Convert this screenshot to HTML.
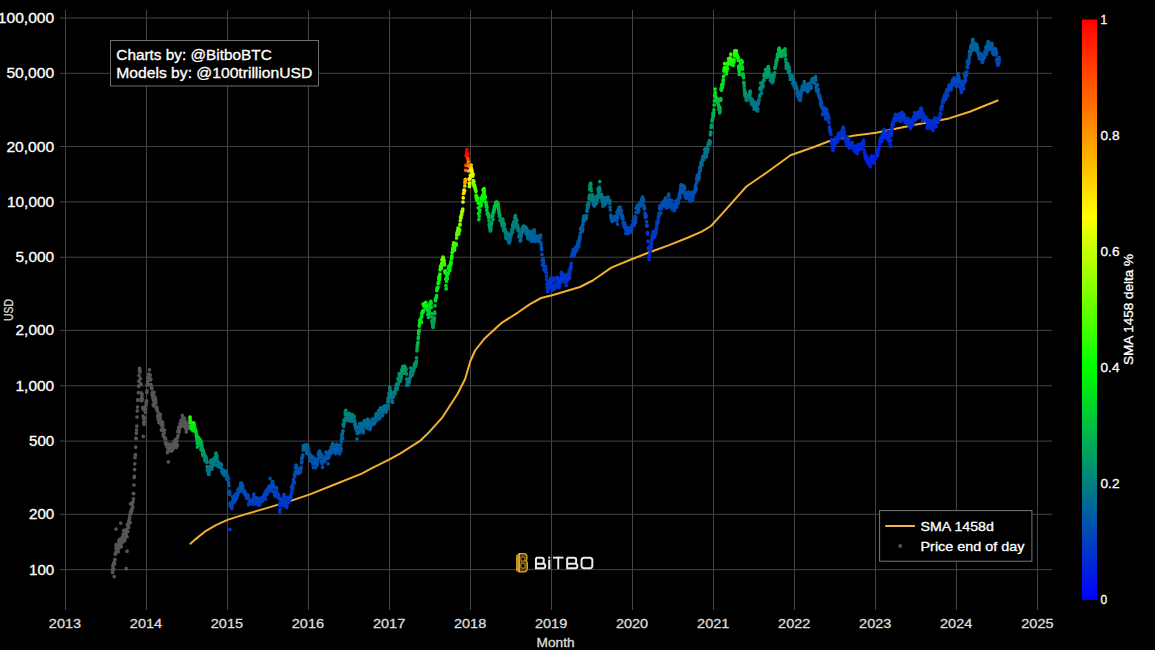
<!DOCTYPE html>
<html><head><meta charset="utf-8"><title>BTC SMA 1458 delta</title>
<style>
html,body{margin:0;padding:0;background:#000;width:1155px;height:650px;overflow:hidden}
svg{display:block;font-family:'Liberation Sans',sans-serif}
</style></head><body>
<svg width="1155" height="650" viewBox="0 0 1155 650">
<defs>
<linearGradient id="cb" x1="0" y1="1" x2="0" y2="0">
<stop offset="0" stop-color="#0000ff"/>
<stop offset="0.4" stop-color="#00ff00"/>
<stop offset="0.66" stop-color="#ffff00"/>
<stop offset="1" stop-color="#ff0000"/>
</linearGradient>
<linearGradient id="lg" x1="0" y1="0" x2="1" y2="1">
<stop offset="0" stop-color="#f0c040"/>
<stop offset="0.6" stop-color="#d49a1c"/>
<stop offset="1" stop-color="#a87410"/>
</linearGradient>
</defs>
<rect width="1155" height="650" fill="#000"/>
<g stroke="#444" stroke-width="1"><line x1="65.50" y1="10" x2="65.50" y2="610"/><line x1="146.50" y1="10" x2="146.50" y2="610"/><line x1="227.50" y1="10" x2="227.50" y2="610"/><line x1="308.50" y1="10" x2="308.50" y2="610"/><line x1="389.50" y1="10" x2="389.50" y2="610"/><line x1="470.50" y1="10" x2="470.50" y2="610"/><line x1="551.50" y1="10" x2="551.50" y2="610"/><line x1="632.50" y1="10" x2="632.50" y2="610"/><line x1="713.50" y1="10" x2="713.50" y2="610"/><line x1="794.50" y1="10" x2="794.50" y2="610"/><line x1="875.50" y1="10" x2="875.50" y2="610"/><line x1="956.50" y1="10" x2="956.50" y2="610"/><line x1="1037.50" y1="10" x2="1037.50" y2="610"/><line x1="60" y1="569.61" x2="1052" y2="569.61"/><line x1="60" y1="514.26" x2="1052" y2="514.26"/><line x1="60" y1="441.09" x2="1052" y2="441.09"/><line x1="60" y1="385.74" x2="1052" y2="385.74"/><line x1="60" y1="330.39" x2="1052" y2="330.39"/><line x1="60" y1="257.22" x2="1052" y2="257.22"/><line x1="60" y1="201.87" x2="1052" y2="201.87"/><line x1="60" y1="146.52" x2="1052" y2="146.52"/><line x1="60" y1="73.35" x2="1052" y2="73.35"/><line x1="60" y1="18.00" x2="1052" y2="18.00"/></g>
<g fill="#fff" stroke="#fff" stroke-width="0.3" font-size="14"><text x="54.2" y="574.61" text-anchor="end" textLength="25.2" lengthAdjust="spacingAndGlyphs">100</text><text x="54.2" y="519.26" text-anchor="end" textLength="25.2" lengthAdjust="spacingAndGlyphs">200</text><text x="54.2" y="446.09" text-anchor="end" textLength="25.2" lengthAdjust="spacingAndGlyphs">500</text><text x="54.2" y="390.74" text-anchor="end" textLength="38.7" lengthAdjust="spacingAndGlyphs">1,000</text><text x="54.2" y="335.39" text-anchor="end" textLength="38.7" lengthAdjust="spacingAndGlyphs">2,000</text><text x="54.2" y="262.22" text-anchor="end" textLength="38.7" lengthAdjust="spacingAndGlyphs">5,000</text><text x="54.2" y="206.87" text-anchor="end" textLength="47.3" lengthAdjust="spacingAndGlyphs">10,000</text><text x="54.2" y="151.52" text-anchor="end" textLength="47.8" lengthAdjust="spacingAndGlyphs">20,000</text><text x="54.2" y="78.35" text-anchor="end" textLength="47.8" lengthAdjust="spacingAndGlyphs">50,000</text><text x="54.2" y="23.00" text-anchor="end" textLength="56.4" lengthAdjust="spacingAndGlyphs">100,000</text></g>
<g fill="#ddd" stroke="#ddd" stroke-width="0.3" font-size="12.6"><text x="65.00" y="628" text-anchor="middle" textLength="32.3" lengthAdjust="spacingAndGlyphs">2013</text><text x="145.98" y="628" text-anchor="middle" textLength="32.3" lengthAdjust="spacingAndGlyphs">2014</text><text x="226.96" y="628" text-anchor="middle" textLength="32.3" lengthAdjust="spacingAndGlyphs">2015</text><text x="307.93" y="628" text-anchor="middle" textLength="32.3" lengthAdjust="spacingAndGlyphs">2016</text><text x="389.13" y="628" text-anchor="middle" textLength="32.3" lengthAdjust="spacingAndGlyphs">2017</text><text x="470.11" y="628" text-anchor="middle" textLength="32.3" lengthAdjust="spacingAndGlyphs">2018</text><text x="551.09" y="628" text-anchor="middle" textLength="32.3" lengthAdjust="spacingAndGlyphs">2019</text><text x="632.07" y="628" text-anchor="middle" textLength="32.3" lengthAdjust="spacingAndGlyphs">2020</text><text x="713.27" y="628" text-anchor="middle" textLength="32.3" lengthAdjust="spacingAndGlyphs">2021</text><text x="794.24" y="628" text-anchor="middle" textLength="32.3" lengthAdjust="spacingAndGlyphs">2022</text><text x="875.22" y="628" text-anchor="middle" textLength="32.3" lengthAdjust="spacingAndGlyphs">2023</text><text x="956.20" y="628" text-anchor="middle" textLength="32.3" lengthAdjust="spacingAndGlyphs">2024</text><text x="1037.40" y="628" text-anchor="middle" textLength="32.3" lengthAdjust="spacingAndGlyphs">2025</text></g>
<text x="555.6" y="646.8" text-anchor="middle" font-size="12.4" fill="#ddd" stroke="#ddd" stroke-width="0.3" textLength="38" lengthAdjust="spacingAndGlyphs">Month</text>
<text transform="translate(13.3,310) rotate(-90)" x="0" y="0" text-anchor="middle" font-size="12.6" fill="#ddd" stroke="#ddd" stroke-width="0.3" textLength="22" lengthAdjust="spacingAndGlyphs">USD</text>
<!-- logo -->
<g>
<path d="M516.5 555.6 l2.8 -2 v18.4 l-2.8 -1.4 z" fill="#c08a1c" stroke="#e0b034" stroke-width="0.8"/>
<path d="M519.3 553.6 h4.4 q3.2 0 3.2 3.2 v1.8 q0 1.4 -.9 2.2 q1.3 .9 1.3 2.6 v4 q0 4.4 -3.6 4.4 h-4.4 z" fill="#5a3c08" stroke="#e0b034" stroke-width="1.3"/>
<rect x="520.9" y="557.1" width="3.9" height="3.9" rx="1.4" fill="#120a02" stroke="#d8a42c" stroke-width="0.9"/>
<rect x="520.9" y="563.3" width="4.2" height="4.8" rx="1.6" fill="#120a02" stroke="#d8a42c" stroke-width="0.9"/>
<g fill="#ececec"><rect x="548.2" y="556.7" width="2.1" height="1.8"/><rect x="548.2" y="559.6" width="2.1" height="9.5"/><rect x="553" y="556.7" width="10.5" height="1.9"/><rect x="557.3" y="556.7" width="1.9" height="12.4"/></g><path d="M535.95 557.65 V568.15 H543.25 Q545.25 568.15 545.25 566.15 V565.80 Q545.25 563.80 543.25 563.80 H535.95 M535.95 557.65 H541.75 Q543.75 557.65 543.75 559.65 V561.80 Q543.75 563.80 541.75 563.80 M567.15 557.65 V568.15 H575.35 Q577.35 568.15 577.35 566.15 V565.80 Q577.35 563.80 575.35 563.80 H567.15 M567.15 557.65 H574.15 Q576.15 557.65 576.15 559.65 V561.80 Q576.15 563.80 574.15 563.80" fill="none" stroke="#ececec" stroke-width="2"/><rect x="581.55" y="557.65" width="10.8" height="10.5" rx="2.6" fill="none" stroke="#ececec" stroke-width="2"/>
</g>
<path d="M189.9 544.3 L195.6 539.1 L206.0 530.8 L216.4 524.8 L228.1 519.6 L244.9 514.4 L265.7 508.4 L289.1 501.4 L309.9 494.4 L335.8 484.0 L361.8 473.6 L370.0 469.1 L389.5 459.4 L400.5 453.4 L420.8 440.3 L429.3 431.9 L441.8 418.2 L457.8 393.5 L465.2 378.8 L470.2 361.5 L475.1 350.5 L484.9 338.2 L500.9 323.4 L518.2 312.3 L530.0 304.1 L541.1 298.0 L552.2 295.3 L579.9 287.0 L592.8 280.5 L611.3 267.6 L631.6 259.3 L648.2 252.8 L668.5 245.4 L687.0 238.0 L701.7 231.6 L711.0 226.0 L720.2 215.9 L725.6 209.9 L746.4 186.5 L767.1 172.2 L790.5 155.3 L813.9 147.0 L829.5 141.0 L852.9 135.8 L876.2 132.7 L891.8 129.4 L917.8 124.2 L949.0 118.4 L969.7 111.7 L998.3 100.3" fill="none" stroke="#f0b030" stroke-width="2" stroke-linejoin="round"/>
<!-- dots -->
<g stroke-width="3.7" stroke-linecap="round" fill="none">
<path stroke="#555555" d="M112.4 569.9h0M112.6 572.4h0M112.8 565.9h0M113.1 569.0h0M113.3 565.5h0M113.5 563.7h0M113.7 569.0h0M114.0 564.6h0M114.2 562.0h0M114.4 562.8h0M114.6 563.5h0M114.8 559.6h0M115.1 559.6h0M115.3 554.2h0M115.5 553.7h0M115.7 552.6h0M116.0 548.9h0M116.2 546.6h0M116.4 544.8h0M116.6 548.2h0M116.8 549.3h0M117.1 549.1h0M117.3 550.0h0M117.5 545.9h0M117.7 548.3h0M117.9 549.8h0M118.2 551.7h0M118.4 547.3h0M118.6 547.0h0M118.8 541.6h0M119.1 544.2h0M119.3 539.5h0M119.5 540.1h0M119.7 547.4h0M119.9 539.4h0M120.2 545.6h0M120.4 545.7h0M120.6 543.4h0M120.8 544.7h0M121.1 545.0h0M121.3 546.4h0M121.5 542.7h0M121.7 540.1h0M121.9 539.1h0M122.2 537.3h0M122.4 539.3h0M122.6 537.3h0M122.8 542.0h0M123.1 534.3h0M123.3 534.0h0M123.5 534.0h0M123.7 530.4h0M123.9 541.0h0M124.2 531.0h0M124.4 534.1h0M124.6 534.1h0M124.8 540.4h0M125.0 531.1h0M125.3 537.2h0M125.5 533.4h0M125.7 533.5h0M125.9 531.6h0M126.2 534.5h0M126.4 529.7h0M126.6 531.0h0M126.8 532.3h0M127.0 536.8h0M127.3 524.5h0M127.5 531.7h0M127.7 531.3h0M127.9 526.1h0M128.2 526.1h0M128.4 522.9h0M128.6 527.4h0M128.8 523.7h0M129.0 520.5h0M129.3 519.2h0M129.5 518.4h0M129.7 517.8h0M129.9 515.0h0M130.2 522.5h0M130.4 512.4h0M130.6 503.8h0M130.8 511.1h0M131.0 512.0h0M131.3 512.9h0M131.5 510.5h0M131.7 508.9h0M131.9 508.9h0M132.1 509.8h0M132.4 504.9h0M132.6 502.6h0M132.8 507.1h0M133.0 501.8h0M133.3 493.5h0M133.5 498.8h0M133.7 493.6h0M133.9 485.0h0M134.1 477.4h0M134.4 476.4h0M134.6 469.6h0M134.8 463.8h0M135.0 457.7h0M135.3 454.7h0M135.5 455.2h0M135.7 447.2h0M135.9 438.2h0M136.1 438.4h0M136.4 433.2h0M136.6 430.0h0M136.8 426.2h0M137.0 417.0h0M137.3 410.9h0M137.5 407.0h0M137.7 399.8h0M137.9 400.4h0M138.1 399.6h0M138.4 392.6h0M138.6 386.2h0M138.8 381.1h0M139.0 375.5h0M139.3 371.1h0M139.5 368.3h0M139.7 368.8h0M139.9 371.9h0M140.1 371.0h0M140.4 378.6h0M140.6 383.6h0M140.8 384.6h0M141.0 384.4h0M141.2 392.9h0M141.5 400.8h0M141.7 398.0h0M141.9 396.0h0M142.1 394.2h0M142.4 399.6h0M142.6 399.3h0M142.8 407.3h0M143.0 408.9h0M143.2 416.0h0M143.5 418.3h0M143.7 422.1h0M143.9 423.3h0M144.1 424.4h0M144.4 422.3h0M144.6 421.8h0M144.8 417.9h0M145.0 411.3h0M145.2 410.6h0M145.5 412.3h0M145.7 408.9h0M145.9 405.6h0M146.1 402.7h0M146.4 403.7h0M146.6 400.8h0M146.8 392.3h0M147.0 390.8h0M147.2 384.9h0M147.5 381.1h0M147.7 385.0h0M147.9 383.6h0M148.1 377.4h0M148.3 377.3h0M148.6 378.1h0M148.8 374.4h0M149.0 374.2h0M149.2 376.0h0M149.5 369.8h0M149.7 375.0h0M149.9 378.5h0M150.1 379.4h0M150.3 375.0h0M150.6 380.0h0M150.8 379.2h0M151.0 384.5h0M151.2 387.4h0M151.5 388.4h0M151.7 387.1h0M151.9 388.5h0M152.1 394.5h0M152.3 392.4h0M152.6 396.3h0M152.8 397.8h0M153.0 396.4h0M153.2 404.4h0M153.5 400.2h0M153.7 405.8h0M153.9 395.5h0M154.1 392.3h0M154.3 401.6h0M154.6 403.9h0M154.8 402.1h0M155.0 402.6h0M155.2 397.6h0M155.4 400.2h0M155.7 400.1h0M155.9 402.8h0M156.1 407.6h0M156.3 407.4h0M156.6 409.0h0M156.8 407.0h0M157.0 407.9h0M157.2 410.5h0M157.4 410.8h0M157.7 416.2h0M157.9 412.0h0M158.1 419.6h0M158.3 414.0h0M158.6 419.0h0M158.8 415.6h0M159.0 422.5h0M159.2 420.3h0M159.4 420.9h0M159.7 422.5h0M159.9 419.3h0M160.1 417.5h0M160.3 414.4h0M160.6 423.7h0M160.8 421.1h0M161.0 421.1h0M161.2 423.1h0M161.4 430.2h0M161.7 421.6h0M161.9 425.4h0M162.1 425.0h0M162.3 428.1h0M162.6 422.4h0M162.8 425.4h0M163.0 430.4h0M163.2 434.4h0M163.4 436.2h0M163.7 430.2h0M163.9 432.0h0M164.1 432.9h0M164.3 430.2h0M164.5 430.0h0M164.8 437.4h0M165.0 438.9h0M165.2 438.7h0M165.4 443.3h0M165.7 438.7h0M165.9 442.5h0M166.1 442.7h0M166.3 443.2h0M166.5 445.6h0M166.8 445.7h0M167.0 446.4h0M167.2 447.0h0M167.4 452.6h0M167.7 448.0h0M167.9 451.0h0M168.1 450.7h0M168.3 447.4h0M168.5 449.6h0M168.8 445.1h0M169.0 449.6h0M169.2 444.8h0M169.4 444.2h0M169.7 446.6h0M169.9 449.1h0M170.1 450.3h0M170.3 450.8h0M170.5 447.9h0M170.8 445.0h0M171.0 448.8h0M171.2 449.4h0M171.4 446.1h0M171.6 451.0h0M171.9 450.4h0M172.1 447.0h0M172.3 450.3h0M172.5 446.1h0M172.8 445.5h0M173.0 448.8h0M173.2 443.5h0M173.4 446.3h0M173.6 442.5h0M173.9 447.2h0M174.1 444.0h0M174.3 445.7h0M174.5 441.0h0M174.8 442.9h0M175.0 447.1h0M175.2 446.8h0M175.4 439.7h0M175.6 445.7h0M175.9 447.2h0M176.1 443.6h0M176.3 447.4h0M176.5 440.7h0M176.8 441.2h0M177.0 444.5h0M177.2 445.7h0M177.4 445.5h0M177.6 437.4h0M177.9 431.7h0M178.1 435.5h0M178.3 430.2h0M178.5 431.4h0M178.7 427.3h0M179.0 432.1h0M179.2 431.9h0M179.4 430.3h0M179.6 427.4h0M179.9 425.8h0M180.1 423.5h0M180.3 424.0h0M180.5 423.0h0M180.7 423.4h0M181.0 420.6h0M181.2 426.5h0M181.4 423.3h0M181.6 425.4h0M181.9 425.7h0M182.1 419.2h0M182.3 415.4h0M182.5 423.6h0M182.7 421.5h0M183.0 422.7h0M183.2 422.4h0M183.4 423.9h0M183.6 420.7h0M183.9 423.1h0M184.1 423.0h0M184.3 424.5h0M184.5 418.2h0M184.7 426.0h0M185.0 427.0h0M185.2 421.4h0M185.4 422.9h0M185.6 425.8h0M185.8 428.7h0M186.1 427.9h0M186.3 432.0h0M186.5 429.3h0M186.7 424.8h0M187.0 424.0h0M187.2 427.6h0M187.4 424.2h0M187.6 427.1h0M187.8 428.1h0M188.1 427.5h0M188.3 428.2h0M188.5 426.0h0M188.7 424.9h0M189.0 423.0h0M189.2 421.8h0M189.4 418.9h0M189.6 419.3h0M189.8 418.4h0M114.2 576.6h0M126.2 568.7h0M120.7 523.1h0M116.0 529.0h0M116.0 544.7h0M127.1 551.2h0M143.3 436.4h0M168.3 461.8h0"/>
<path stroke="#2afc00" d="M190.1 417.1h0M444.6 265.0h0M454.4 248.3h0M456.1 244.8h0M456.3 245.0h0M476.1 195.4h0M730.4 57.8h0M734.6 53.2h0M735.1 53.1h0M735.5 53.0h0"/>
<path stroke="#18fc00" d="M190.3 420.1h0M439.0 276.6h0M451.9 255.9h0M476.5 198.1h0M477.4 197.6h0M477.7 197.8h0M724.2 69.0h0M724.9 68.4h0M725.5 67.3h0M728.0 64.8h0M728.2 64.3h0M729.1 63.4h0M729.5 62.2h0M729.7 62.0h0"/>
<path stroke="#0cfc00" d="M190.5 422.7h0M190.7 422.6h0M423.1 304.1h0M438.8 279.1h0M451.5 258.7h0M477.2 199.6h0M724.0 71.1h0M731.3 62.9h0M733.5 60.1h0M734.2 59.8h0M736.8 56.2h0M737.3 55.9h0"/>
<path stroke="#00f606" d="M191.0 426.4h0M191.6 426.2h0M192.1 425.2h0M424.4 306.1h0M424.8 304.9h0M425.9 302.3h0M448.6 268.6h0M450.4 265.5h0M450.6 265.1h0M482.1 199.6h0M723.5 76.5h0M723.7 76.0h0M726.4 73.7h0M733.1 65.4h0M738.2 60.5h0"/>
<path stroke="#00f60c" d="M191.2 427.8h0M192.3 426.3h0M194.1 424.3h0M422.2 312.2h0M422.4 312.1h0M422.8 311.0h0M425.5 304.6h0M449.0 268.6h0M480.3 202.2h0M480.5 202.2h0M485.0 197.1h0M485.2 196.5h0"/>
<path stroke="#00f012" d="M191.4 429.0h0M192.5 427.9h0M192.7 428.4h0M193.6 427.3h0M194.5 426.0h0M423.3 311.4h0M423.5 311.0h0M423.7 310.3h0M437.5 288.5h0M437.7 288.1h0M482.3 201.4h0M484.8 198.5h0M715.1 89.1h0M723.3 79.8h0"/>
<path stroke="#06fc00" d="M191.8 422.7h0M439.5 279.3h0M444.8 271.5h0M445.0 271.0h0M482.8 195.0h0M726.2 70.0h0M726.8 69.0h0M727.1 68.9h0M727.3 68.1h0M727.5 68.7h0M731.5 64.5h0M732.2 62.9h0M732.6 63.1h0M732.8 62.7h0M733.3 62.3h0M733.7 61.0h0M737.5 57.4h0M737.7 56.9h0"/>
<path stroke="#00e418" d="M193.0 430.7h0M193.4 430.0h0M194.3 429.6h0M194.9 428.6h0M195.2 428.9h0M420.4 320.7h0M445.7 279.1h0M722.0 84.6h0M722.6 84.0h0M742.2 61.6h0"/>
<path stroke="#00ea12" d="M193.2 428.8h0M420.0 319.9h0M421.1 317.7h0M421.7 316.7h0M425.7 307.3h0M426.2 306.3h0M426.6 305.3h0M436.8 290.6h0M447.0 275.1h0M448.4 272.8h0M449.7 270.6h0M478.3 207.8h0M480.8 204.5h0M723.1 80.8h0M741.3 60.3h0"/>
<path stroke="#00fc06" d="M193.8 422.8h0M424.0 306.0h0M425.1 303.3h0M438.6 283.2h0M445.3 273.0h0M448.8 266.6h0M449.5 266.3h0M450.1 264.9h0M451.0 263.5h0M478.1 203.1h0M481.9 198.6h0"/>
<path stroke="#00e41e" d="M194.7 429.9h0M419.5 324.2h0M420.6 321.4h0M420.8 321.4h0M426.8 307.9h0M427.1 306.5h0M430.8 301.4h0M485.6 201.8h0M485.9 202.3h0M715.3 92.7h0M721.7 85.0h0M722.9 83.9h0M738.6 66.4h0M741.1 63.5h0M741.5 63.7h0M741.9 63.0h0"/>
<path stroke="#00de1e" d="M195.4 430.4h0M195.8 430.6h0M421.3 321.7h0M429.9 303.3h0M430.6 303.0h0M447.3 278.5h0M447.5 278.6h0M479.6 210.3h0M479.9 210.0h0M714.9 94.5h0M722.4 86.2h0M739.9 66.0h0M740.2 65.6h0"/>
<path stroke="#00d824" d="M195.6 432.0h0M196.1 432.5h0M429.7 305.9h0M431.1 303.6h0M435.7 298.4h0M435.9 297.7h0M436.2 298.1h0M436.4 297.4h0M478.5 213.3h0M479.4 212.6h0M721.1 89.5h0M739.7 68.6h0"/>
<path stroke="#00d22a" d="M196.3 434.6h0M419.1 330.4h0M427.7 310.8h0M429.3 309.1h0M435.5 300.7h0M445.9 285.7h0"/>
<path stroke="#00cc36" d="M196.5 437.1h0M427.9 314.2h0M428.8 312.3h0M446.1 288.9h0M446.4 288.7h0M478.8 219.6h0M479.0 219.3h0M486.8 210.1h0M495.6 202.8h0M495.8 202.4h0M496.5 202.2h0M716.0 100.3h0M717.1 100.0h0M739.3 74.5h0"/>
<path stroke="#00d230" d="M196.7 435.3h0M418.8 331.4h0M431.3 307.3h0M479.2 216.1h0M487.0 207.3h0M716.2 98.5h0M716.4 98.3h0M739.5 72.1h0M742.6 69.1h0"/>
<path stroke="#00c63c" d="M196.9 439.6h0M198.9 438.1h0M418.2 338.4h0M418.4 336.9h0M428.6 315.2h0M494.3 206.2h0M495.0 205.8h0M495.2 205.4h0M495.4 205.4h0M496.7 204.6h0M497.4 203.8h0M714.2 105.0h0M717.3 102.1h0M718.2 100.4h0M720.6 98.6h0"/>
<path stroke="#00ba42" d="M197.2 443.3h0M198.5 442.1h0M199.2 441.0h0M200.3 440.8h0M418.0 342.2h0M488.3 215.2h0M493.6 209.9h0M498.3 205.9h0M714.0 109.8h0M718.4 104.9h0M743.3 75.9h0M778.8 49.6h0M779.0 50.5h0M779.4 49.2h0"/>
<path stroke="#00b44e" d="M197.4 446.9h0M200.5 443.5h0M492.1 215.0h0M492.5 215.3h0M498.7 210.1h0M712.9 113.7h0M719.3 106.8h0M777.4 55.4h0M777.9 55.0h0M778.1 54.1h0M779.9 53.6h0M780.1 53.4h0M780.8 52.7h0M782.3 52.1h0M783.2 50.7h0M784.1 50.9h0"/>
<path stroke="#00c042" d="M197.6 441.1h0M197.8 441.3h0M198.7 440.0h0M200.1 439.5h0M428.4 317.3h0M431.5 313.7h0M487.9 213.6h0M488.1 213.8h0M494.5 208.5h0M720.4 100.4h0M742.8 75.3h0M778.6 49.5h0"/>
<path stroke="#00c636" d="M198.1 437.2h0M428.2 314.5h0M435.0 305.8h0M496.3 203.1h0M497.0 202.3h0M497.2 202.5h0M497.6 202.5h0"/>
<path stroke="#00c03c" d="M198.3 439.9h0M487.2 214.0h0M487.4 213.1h0M487.6 212.8h0M494.7 207.4h0M496.1 206.1h0M497.8 203.9h0M498.1 203.9h0M717.5 102.7h0M717.8 102.9h0M718.0 102.5h0M720.9 99.3h0M743.0 73.9h0M779.2 48.0h0"/>
<path stroke="#00b448" d="M199.4 444.1h0M199.6 443.0h0M199.8 443.8h0M201.4 441.9h0M417.3 345.7h0M417.5 344.3h0M417.7 344.4h0M431.7 317.0h0M434.6 313.8h0M488.5 216.9h0M488.7 217.7h0M493.2 213.1h0M498.5 208.6h0M713.8 112.6h0M719.1 106.9h0M778.3 53.3h0M781.0 51.5h0M781.2 51.6h0M785.0 48.9h0"/>
<path stroke="#00ae4e" d="M200.7 445.3h0M417.1 348.0h0M491.9 217.2h0M492.3 216.3h0M492.7 216.0h0M713.5 115.6h0M718.9 109.6h0M777.7 56.6h0M780.3 54.3h0M781.4 53.9h0M782.5 52.2h0M783.0 53.1h0M783.7 52.4h0M783.9 52.2h0M784.8 51.2h0"/>
<path stroke="#00a85a" d="M200.9 449.6h0M432.4 323.8h0M489.2 224.3h0M712.0 121.0h0M719.7 112.8h0M765.5 69.6h0M767.9 67.8h0M768.3 66.6h0M775.9 61.6h0M776.3 62.0h0M776.6 61.0h0M785.4 55.3h0"/>
<path stroke="#00ae54" d="M201.2 446.2h0M201.6 445.3h0M201.8 445.1h0M431.9 320.9h0M432.2 321.6h0M434.2 319.2h0M434.4 318.2h0M489.0 220.9h0M499.0 212.0h0M713.1 116.4h0M713.3 116.2h0M719.5 109.4h0M720.2 108.4h0M743.7 82.4h0M777.2 58.3h0M780.5 56.2h0M781.9 55.2h0M782.1 53.8h0M783.4 53.6h0"/>
<path stroke="#00a854" d="M202.0 447.1h0M416.9 350.8h0M433.7 320.7h0M493.0 219.4h0M499.2 213.8h0M499.6 214.0h0M712.2 119.6h0M712.4 119.2h0M712.6 118.6h0M720.0 111.3h0M743.9 83.4h0M776.8 59.7h0M777.0 59.9h0M781.7 56.5h0M782.8 55.4h0M784.3 54.7h0M784.5 54.5h0M785.2 53.7h0"/>
<path stroke="#00a25a" d="M202.3 449.5h0M432.6 324.4h0M433.5 323.4h0M433.9 322.9h0M489.4 224.9h0M491.4 223.3h0M491.6 222.5h0M499.4 216.2h0M499.8 215.6h0M744.2 86.2h0M766.1 69.6h0M768.6 68.6h0"/>
<path stroke="#00a260" d="M202.5 450.9h0M203.2 450.0h0M203.4 450.4h0M402.6 366.5h0M402.9 366.7h0M403.1 366.8h0M404.4 366.1h0M432.8 326.2h0M433.3 325.3h0M491.2 225.0h0M765.9 71.3h0M767.2 71.3h0M768.8 69.4h0M775.7 65.2h0M776.1 63.8h0"/>
<path stroke="#009c66" d="M202.7 453.8h0M203.8 453.3h0M401.8 371.2h0M402.2 370.7h0M403.5 368.7h0M405.1 367.5h0M416.6 357.9h0M491.0 228.5h0M500.1 220.3h0M500.3 219.5h0M500.5 219.4h0M500.7 220.2h0M501.0 218.9h0M590.6 183.3h0M711.1 127.5h0M711.8 127.0h0M764.1 75.9h0M765.2 76.0h0M765.7 74.8h0M767.0 74.0h0M769.0 72.3h0M769.2 73.2h0M775.0 68.3h0"/>
<path stroke="#009666" d="M202.9 455.4h0M204.5 454.1h0M399.1 373.8h0M401.5 371.9h0M403.8 370.4h0M404.0 370.2h0M405.3 368.7h0M405.8 368.6h0M490.1 230.0h0M490.3 231.0h0M490.5 230.4h0M490.7 230.7h0M501.2 221.1h0M501.4 221.2h0M501.6 221.1h0M502.5 221.0h0M502.9 219.2h0M590.2 185.2h0M590.4 184.3h0M590.8 184.7h0M744.6 91.5h0M764.6 77.5h0M764.8 77.2h0M765.0 76.5h0M766.6 75.7h0M785.9 61.8h0"/>
<path stroke="#00966c" d="M203.6 455.4h0M204.0 455.3h0M204.3 454.8h0M399.5 375.7h0M400.9 374.4h0M404.9 370.4h0M405.5 370.8h0M406.0 369.8h0M414.9 363.3h0M415.7 362.5h0M416.0 362.4h0M416.4 361.4h0M502.3 221.4h0M502.7 221.4h0M589.9 186.4h0M599.7 181.5h0M710.6 132.0h0M744.8 94.0h0M745.3 92.4h0M763.7 80.2h0M766.8 77.1h0M769.5 76.0h0M769.9 75.4h0M770.1 75.6h0M787.0 63.4h0"/>
<path stroke="#009072" d="M204.7 458.4h0M205.6 457.3h0M205.8 456.7h0M345.8 410.4h0M398.0 378.9h0M398.9 379.9h0M400.4 378.5h0M401.1 377.4h0M406.2 373.5h0M406.4 374.0h0M414.0 367.3h0M415.3 366.5h0M415.5 365.7h0M502.1 225.6h0M504.5 224.1h0M514.7 218.0h0M514.9 218.2h0M515.4 217.3h0M589.7 189.3h0M710.4 134.8h0M745.5 96.7h0M749.9 93.0h0M750.4 92.0h0M762.4 83.5h0M771.2 77.5h0M773.7 76.1h0M787.2 66.8h0"/>
<path stroke="#008a72" d="M204.9 460.2h0M205.2 458.7h0M206.5 458.6h0M345.2 412.2h0M389.8 387.4h0M399.8 379.6h0M400.0 380.0h0M400.7 379.6h0M411.1 371.9h0M411.3 371.5h0M412.9 370.4h0M413.1 370.2h0M414.2 368.1h0M504.1 225.1h0M504.3 225.5h0M591.3 190.7h0M747.9 95.5h0M749.0 94.9h0M749.5 94.2h0M760.1 87.9h0M760.4 87.8h0M761.7 86.7h0M761.9 86.1h0M762.1 85.5h0M763.0 85.5h0M770.3 80.5h0M770.8 80.1h0M771.0 79.8h0M771.5 78.5h0M773.4 77.3h0M773.9 76.9h0M786.3 68.4h0M787.7 67.2h0M216.0 453.0h0"/>
<path stroke="#008a78" d="M205.4 460.8h0M206.0 460.1h0M206.3 460.5h0M215.8 454.3h0M345.4 414.4h0M396.4 384.9h0M396.7 384.0h0M398.2 382.8h0M398.7 382.6h0M400.2 381.2h0M410.9 372.6h0M411.5 372.2h0M411.7 372.3h0M412.0 371.7h0M413.3 371.1h0M413.5 370.3h0M413.7 370.3h0M503.4 227.9h0M503.6 228.7h0M513.8 221.9h0M515.6 221.5h0M516.3 220.6h0M516.5 219.7h0M516.7 220.6h0M598.1 188.9h0M599.3 187.4h0M746.4 98.0h0M746.6 98.1h0M747.0 98.6h0M748.4 97.8h0M748.8 97.3h0M749.7 96.0h0M759.9 89.0h0M760.8 87.8h0M762.6 86.4h0M762.8 86.9h0M771.7 81.2h0M772.1 79.6h0M772.6 80.8h0M772.8 79.5h0M773.0 79.4h0M788.1 68.8h0M788.5 68.3h0M789.2 67.4h0"/>
<path stroke="#008478" d="M206.7 461.0h0M206.9 462.4h0M216.3 455.1h0M216.5 455.0h0M216.7 455.4h0M216.9 455.6h0M345.6 414.6h0M347.2 413.9h0M349.2 413.3h0M349.4 414.4h0M390.0 389.6h0M390.2 390.2h0M396.9 384.9h0M397.1 386.2h0M397.8 384.6h0M398.4 384.1h0M406.6 379.0h0M410.4 374.7h0M412.4 374.0h0M412.6 373.4h0M504.7 228.3h0M504.9 229.1h0M505.2 229.6h0M512.7 224.7h0M513.4 224.4h0M514.0 223.9h0M515.8 222.2h0M589.5 195.1h0M599.0 189.5h0M599.9 189.8h0M709.3 141.1h0M709.5 140.6h0M746.2 100.0h0M746.8 100.3h0M747.3 98.9h0M747.5 98.9h0M747.7 98.3h0M748.2 98.5h0M748.6 98.4h0M749.3 97.2h0M761.0 89.9h0M761.2 89.2h0M772.3 82.7h0M773.2 80.9h0M788.8 69.9h0M789.0 69.8h0"/>
<path stroke="#007e84" d="M207.2 466.7h0M212.7 463.5h0M214.9 461.6h0M217.4 461.0h0M344.3 420.8h0M344.5 421.7h0M346.5 419.9h0M348.3 420.5h0M348.7 419.5h0M350.1 420.1h0M350.3 418.9h0M350.5 418.4h0M388.9 396.6h0M393.6 394.2h0M393.8 393.3h0M394.0 393.6h0M394.2 392.7h0M394.9 392.1h0M407.1 384.4h0M408.0 383.5h0M408.2 382.7h0M408.4 381.5h0M408.9 381.9h0M409.1 382.6h0M409.3 380.9h0M505.6 233.4h0M506.5 233.1h0M507.2 232.9h0M511.8 231.3h0M512.3 230.2h0M517.2 228.1h0M517.4 226.4h0M518.0 227.6h0M591.9 200.5h0M593.0 199.0h0M596.1 197.2h0M596.8 196.2h0M597.5 197.0h0M597.7 195.6h0M597.9 195.5h0M600.4 195.0h0M601.5 194.3h0M704.7 149.6h0M705.3 149.1h0M706.9 148.2h0M751.7 102.6h0M752.4 101.0h0M752.6 100.5h0M752.8 101.2h0M759.5 96.5h0M789.9 74.6h0M790.1 75.7h0"/>
<path stroke="#007884" d="M207.4 469.8h0M209.8 466.8h0M210.0 466.5h0M210.7 466.0h0M211.6 466.6h0M212.3 465.3h0M212.5 465.3h0M212.9 464.7h0M213.1 464.2h0M214.7 464.8h0M218.2 462.5h0M218.7 462.5h0M343.4 423.8h0M350.7 420.6h0M350.9 421.2h0M351.2 420.6h0M351.4 421.0h0M352.5 419.8h0M352.9 420.2h0M353.2 419.2h0M353.4 419.4h0M353.6 419.0h0M354.1 419.8h0M354.5 420.0h0M388.0 398.3h0M388.2 399.0h0M388.4 398.7h0M391.6 395.9h0M391.8 397.0h0M392.9 395.9h0M393.1 395.0h0M394.4 394.2h0M394.7 393.9h0M395.1 393.5h0M406.9 385.2h0M407.5 384.4h0M407.8 385.3h0M505.8 236.6h0M506.9 236.2h0M507.4 234.9h0M507.6 235.6h0M511.2 233.6h0M511.6 233.3h0M512.5 232.2h0M517.8 229.7h0M523.6 226.2h0M588.4 202.4h0M588.6 203.0h0M588.8 203.9h0M593.7 200.9h0M593.9 200.9h0M595.0 199.3h0M595.3 200.2h0M600.1 196.0h0M600.8 196.9h0M601.0 196.8h0M601.3 195.3h0M706.7 149.8h0M707.8 148.8h0M708.0 149.2h0M751.5 103.9h0M753.5 102.7h0M753.7 103.2h0M755.0 102.5h0M755.3 102.3h0M790.5 76.9h0M791.2 76.8h0M792.3 75.9h0"/>
<path stroke="#00788a" d="M207.6 469.8h0M207.8 470.2h0M208.3 470.3h0M209.4 468.7h0M209.6 469.2h0M212.0 466.9h0M217.6 465.2h0M218.5 463.5h0M218.9 463.9h0M220.5 463.8h0M343.2 424.6h0M343.6 426.3h0M343.8 424.4h0M353.8 421.4h0M354.7 421.5h0M387.8 401.6h0M388.7 401.4h0M392.0 398.1h0M393.3 397.1h0M506.1 238.2h0M506.3 238.4h0M506.7 236.4h0M507.8 236.5h0M508.3 236.5h0M510.3 234.9h0M510.5 234.4h0M510.9 234.8h0M511.4 233.7h0M518.3 230.6h0M518.5 229.7h0M518.7 231.0h0M522.3 228.4h0M522.9 227.0h0M523.1 226.6h0M523.4 226.9h0M524.5 226.9h0M524.7 226.5h0M524.9 227.2h0M587.3 205.0h0M587.7 205.4h0M588.2 205.9h0M593.3 203.1h0M594.8 201.4h0M595.5 201.5h0M595.9 201.7h0M597.0 199.8h0M597.3 199.7h0M600.6 197.5h0M601.7 196.9h0M601.9 197.7h0M704.9 152.9h0M705.1 152.8h0M707.1 150.8h0M707.3 151.3h0M707.5 152.1h0M753.0 105.5h0M753.3 104.2h0M758.6 100.4h0M758.8 101.1h0M759.0 100.4h0M759.2 99.8h0M790.3 79.5h0M790.8 78.4h0M791.0 78.1h0M791.6 78.9h0M791.9 77.7h0M792.1 78.5h0"/>
<path stroke="#00728a" d="M208.0 471.5h0M208.5 472.9h0M209.1 471.9h0M211.8 469.2h0M217.8 466.0h0M218.0 465.4h0M219.6 466.2h0M219.8 464.5h0M220.0 465.0h0M220.2 465.7h0M220.7 464.0h0M221.1 464.3h0M221.4 465.3h0M221.6 464.5h0M380.5 407.9h0M384.2 406.4h0M392.2 401.0h0M508.1 239.7h0M508.5 239.2h0M508.9 239.0h0M509.6 238.7h0M510.7 236.6h0M522.0 230.2h0M523.8 228.3h0M524.0 228.7h0M525.1 227.9h0M525.4 228.4h0M525.6 227.9h0M526.5 228.2h0M587.5 208.2h0M587.9 206.8h0M593.5 204.1h0M594.4 204.8h0M595.7 202.8h0M596.4 203.2h0M596.6 201.9h0M602.1 200.0h0M602.6 199.8h0M603.7 198.9h0M604.1 197.7h0M703.1 156.4h0M704.0 156.2h0M705.5 154.2h0M705.8 154.1h0M706.0 153.4h0M753.9 106.2h0M754.6 106.6h0M754.8 104.9h0M755.5 105.7h0M756.1 105.3h0M758.1 104.5h0M758.4 102.9h0M791.4 79.4h0M792.5 79.8h0M793.0 79.1h0M793.2 80.1h0M793.4 79.8h0M793.6 79.1h0"/>
<path stroke="#007290" d="M208.7 474.4h0M208.9 474.4h0M219.1 467.0h0M219.4 467.1h0M220.9 467.6h0M354.9 424.4h0M355.4 424.0h0M359.8 423.7h0M364.5 420.6h0M378.5 412.0h0M378.7 410.6h0M380.2 410.4h0M382.0 409.7h0M383.1 407.8h0M383.3 408.4h0M383.6 407.2h0M384.0 406.8h0M384.5 408.4h0M385.1 407.0h0M385.3 406.2h0M386.9 405.6h0M387.6 405.1h0M392.4 401.3h0M392.7 402.3h0M509.4 240.8h0M510.0 239.8h0M519.6 234.2h0M521.6 232.8h0M521.8 231.9h0M522.5 231.2h0M522.7 231.6h0M524.3 230.0h0M525.8 229.1h0M526.9 229.4h0M586.8 210.8h0M594.2 206.0h0M594.6 205.2h0M602.4 201.7h0M603.2 200.2h0M603.5 199.7h0M603.9 200.1h0M604.6 200.0h0M606.4 199.1h0M606.6 199.0h0M606.8 197.8h0M607.0 198.3h0M607.2 198.3h0M608.1 197.2h0M702.4 159.2h0M702.9 159.2h0M703.3 156.8h0M703.5 157.8h0M704.2 156.6h0M704.4 156.9h0M706.2 156.9h0M706.4 155.6h0M754.1 109.1h0M754.4 108.8h0M755.7 107.1h0M755.9 107.6h0M756.4 106.2h0M756.6 105.7h0M793.9 82.2h0"/>
<path stroke="#00847e" d="M210.3 462.1h0M210.5 462.0h0M211.1 460.1h0M214.0 459.7h0M214.3 458.1h0M215.6 457.1h0M216.0 457.2h0M217.1 457.6h0M346.1 417.3h0M346.3 417.1h0M346.7 416.5h0M347.0 416.5h0M347.8 417.0h0M348.9 416.4h0M349.6 415.5h0M351.6 415.9h0M352.1 414.5h0M389.1 393.5h0M389.6 392.4h0M390.4 391.7h0M390.7 391.8h0M391.1 392.1h0M395.5 388.3h0M395.8 388.8h0M396.2 388.0h0M397.5 386.5h0M410.0 378.0h0M410.2 377.7h0M412.2 375.2h0M503.8 230.6h0M512.9 226.2h0M514.3 226.2h0M516.9 224.3h0M589.0 197.5h0M591.5 196.7h0M592.4 196.3h0M592.6 194.9h0M598.4 191.9h0M598.6 191.8h0M598.8 192.3h0M599.5 190.7h0M708.4 143.7h0M708.9 142.8h0M709.1 143.1h0M710.0 142.2h0M710.2 141.5h0M750.6 98.9h0M788.3 72.1h0M789.4 71.8h0M789.6 70.9h0"/>
<path stroke="#007e7e" d="M210.9 462.8h0M211.4 461.6h0M213.4 460.9h0M213.6 460.7h0M213.8 461.0h0M214.5 461.3h0M215.1 459.0h0M215.4 459.1h0M344.1 420.0h0M344.7 419.7h0M345.0 418.9h0M347.4 418.2h0M347.6 418.4h0M348.1 417.3h0M348.5 418.1h0M349.8 417.3h0M351.8 416.4h0M352.3 416.1h0M352.7 416.4h0M354.3 416.4h0M389.3 393.7h0M390.9 393.5h0M391.3 392.3h0M395.3 390.9h0M396.0 389.4h0M397.3 389.2h0M407.3 382.4h0M408.6 380.4h0M409.5 378.7h0M409.7 378.9h0M505.4 231.5h0M512.0 229.1h0M513.2 227.9h0M513.6 227.0h0M514.5 227.0h0M516.0 225.5h0M517.6 225.7h0M589.3 198.7h0M591.7 198.5h0M592.2 198.2h0M592.8 196.5h0M708.2 145.3h0M708.7 144.3h0M709.8 143.9h0M750.8 100.4h0M751.0 100.0h0M751.3 101.0h0M751.9 99.2h0M752.1 99.4h0M759.7 95.2h0M761.5 93.2h0"/>
<path stroke="#006c96" d="M221.8 470.2h0M223.1 469.9h0M303.2 445.8h0M303.7 445.6h0M304.8 445.3h0M305.7 444.8h0M307.5 445.2h0M341.8 435.3h0M342.3 434.0h0M356.0 428.0h0M356.3 429.2h0M357.8 428.4h0M358.0 426.9h0M358.3 427.4h0M360.0 426.1h0M360.3 427.3h0M360.5 425.6h0M360.7 427.0h0M361.2 427.2h0M361.4 426.4h0M362.3 425.0h0M363.6 425.2h0M363.8 424.4h0M365.6 424.2h0M365.8 422.5h0M366.0 422.7h0M367.4 423.2h0M368.3 420.6h0M368.5 422.0h0M368.9 421.7h0M372.0 419.5h0M372.9 418.9h0M375.4 418.3h0M375.6 417.7h0M375.8 416.3h0M376.5 416.8h0M376.9 416.8h0M377.4 415.2h0M378.0 415.2h0M378.2 416.5h0M379.8 414.5h0M380.9 414.2h0M381.1 414.3h0M381.3 413.7h0M382.2 413.1h0M382.9 412.1h0M385.6 411.5h0M386.4 409.7h0M520.5 237.1h0M520.7 237.6h0M526.0 233.8h0M527.1 232.6h0M529.6 231.3h0M533.8 230.5h0M534.0 229.9h0M534.2 230.7h0M583.9 216.0h0M584.4 216.1h0M586.4 215.5h0M586.6 215.6h0M602.8 204.5h0M604.8 204.4h0M605.2 204.3h0M605.5 203.1h0M605.7 203.6h0M605.9 202.7h0M606.1 202.3h0M607.5 200.8h0M607.7 201.5h0M607.9 200.7h0M608.4 201.1h0M608.8 200.0h0M609.9 200.7h0M700.9 162.5h0M701.1 162.6h0M701.6 163.3h0M701.8 163.8h0M756.8 110.5h0M757.0 110.3h0M757.2 110.1h0M757.5 110.5h0M757.7 111.0h0M794.1 86.2h0M794.3 85.7h0M795.0 85.9h0M804.1 83.0h0M804.3 81.5h0M811.6 79.9h0M811.8 80.4h0M812.7 78.6h0M814.1 79.6h0M815.4 78.9h0M972.5 43.2h0"/>
<path stroke="#006696" d="M222.0 471.8h0M222.2 472.7h0M222.5 473.1h0M222.7 473.3h0M223.4 471.8h0M223.8 470.9h0M224.5 471.7h0M224.7 471.7h0M224.9 472.0h0M225.1 471.8h0M225.6 471.2h0M225.8 472.0h0M303.5 446.9h0M303.9 446.2h0M304.1 448.0h0M304.6 447.3h0M305.5 447.5h0M306.1 447.3h0M306.3 447.0h0M307.7 446.2h0M342.1 437.3h0M356.5 430.7h0M356.7 430.1h0M356.9 431.0h0M357.4 430.3h0M357.6 430.4h0M358.5 428.9h0M361.6 428.9h0M362.5 427.6h0M364.0 425.6h0M364.3 425.7h0M365.4 425.3h0M367.1 425.0h0M367.6 424.1h0M368.0 423.3h0M368.7 423.4h0M369.1 423.1h0M370.9 423.1h0M371.1 422.9h0M372.5 422.3h0M372.7 420.9h0M373.1 420.7h0M373.4 421.2h0M373.8 421.0h0M374.7 420.9h0M375.1 419.3h0M377.1 418.5h0M379.6 416.7h0M380.0 417.3h0M380.7 416.5h0M382.5 414.7h0M382.7 415.3h0M385.8 412.1h0M386.2 412.1h0M520.0 240.5h0M520.3 241.1h0M520.9 240.3h0M527.4 235.1h0M528.2 236.3h0M529.1 235.7h0M529.4 235.5h0M529.8 235.1h0M530.0 233.9h0M530.2 233.3h0M530.7 233.5h0M532.7 231.7h0M532.9 232.1h0M533.1 231.8h0M533.3 232.3h0M534.5 231.7h0M583.5 218.1h0M583.7 218.4h0M584.6 217.1h0M584.8 217.8h0M585.1 218.5h0M585.5 217.9h0M585.7 216.3h0M585.9 217.9h0M603.0 206.2h0M609.0 202.0h0M609.2 202.3h0M609.5 202.8h0M609.7 203.3h0M700.7 165.8h0M701.3 164.6h0M702.0 164.9h0M794.8 88.0h0M795.6 86.4h0M795.9 86.5h0M796.1 87.1h0M796.3 86.3h0M802.3 86.0h0M805.2 84.3h0M808.7 83.6h0M809.2 83.7h0M811.4 81.0h0M812.1 81.4h0M812.3 81.6h0M812.5 81.2h0M812.9 80.5h0M813.2 82.2h0M813.4 80.9h0M813.6 80.3h0M813.8 81.5h0M814.3 80.8h0M814.7 80.9h0M814.9 81.3h0M815.2 80.1h0M815.8 80.5h0M971.4 45.0h0M972.3 44.4h0M973.6 44.0h0M974.0 42.9h0M975.6 44.4h0M975.8 44.2h0"/>
<path stroke="#00669c" d="M222.9 473.6h0M223.6 473.9h0M224.0 474.2h0M225.3 473.7h0M226.0 473.5h0M303.0 449.8h0M304.3 449.5h0M305.0 449.8h0M305.2 449.1h0M305.9 448.8h0M307.9 448.4h0M308.1 449.0h0M341.6 439.2h0M342.5 438.3h0M357.2 433.5h0M358.7 432.7h0M358.9 431.1h0M359.2 432.5h0M359.4 432.5h0M359.6 431.4h0M360.9 430.8h0M362.7 429.5h0M362.9 429.5h0M363.4 430.4h0M366.5 427.0h0M366.7 427.6h0M366.9 428.1h0M369.4 424.8h0M370.5 425.2h0M370.7 425.9h0M371.4 423.6h0M371.6 425.1h0M371.8 424.0h0M372.2 422.8h0M373.6 422.3h0M374.0 423.9h0M374.2 421.5h0M374.5 421.5h0M374.9 422.4h0M376.7 420.2h0M379.3 418.7h0M527.6 238.1h0M527.8 236.7h0M528.5 237.5h0M528.9 237.5h0M530.5 235.2h0M530.9 236.2h0M531.1 234.6h0M532.5 236.0h0M533.6 233.9h0M583.1 221.7h0M583.3 219.8h0M584.2 220.1h0M585.3 219.6h0M586.2 218.4h0M699.8 167.7h0M700.0 168.3h0M700.4 167.9h0M796.5 88.3h0M796.7 89.0h0M801.9 88.7h0M802.1 88.2h0M803.2 87.9h0M804.5 86.3h0M804.7 87.4h0M805.0 86.8h0M805.6 86.8h0M808.5 84.3h0M809.0 84.3h0M809.6 85.2h0M814.5 83.1h0M970.7 47.4h0M970.9 47.1h0M971.6 46.1h0M973.2 46.8h0M973.4 45.6h0M973.8 45.2h0M976.5 45.8h0M976.7 44.5h0"/>
<path stroke="#00609c" d="M224.2 475.6h0M226.2 475.7h0M226.5 476.3h0M226.7 476.4h0M227.1 474.8h0M306.6 450.4h0M306.8 451.9h0M307.2 450.4h0M332.5 444.8h0M332.7 443.7h0M341.4 441.4h0M363.2 432.8h0M369.6 428.3h0M369.8 427.1h0M370.3 427.8h0M528.7 239.1h0M532.2 238.0h0M534.7 235.3h0M536.9 236.1h0M610.1 207.0h0M699.6 171.4h0M700.2 170.7h0M797.4 90.7h0M801.4 91.2h0M801.6 91.2h0M802.5 89.5h0M802.7 90.2h0M803.0 88.6h0M803.4 89.9h0M803.6 89.9h0M803.8 88.6h0M805.4 88.3h0M805.8 88.8h0M806.1 89.6h0M806.3 89.2h0M806.5 87.7h0M807.0 87.9h0M807.2 87.8h0M807.4 88.6h0M809.4 86.6h0M809.8 86.7h0M810.1 88.1h0M810.3 86.1h0M810.5 86.1h0M811.2 86.3h0M817.6 84.8h0M969.6 51.1h0M971.2 48.6h0M971.8 50.6h0M972.1 50.2h0M974.3 48.0h0M974.5 48.6h0M974.7 47.7h0M974.9 49.1h0M976.3 47.0h0M976.9 47.5h0M977.2 47.4h0M977.4 47.0h0M987.8 42.2h0M988.0 42.0h0M988.3 43.3h0M988.5 43.5h0M988.7 42.1h0"/>
<path stroke="#0060a2" d="M226.9 478.9h0M227.8 477.9h0M302.8 455.1h0M307.0 453.4h0M308.3 452.8h0M308.6 454.1h0M308.8 452.2h0M309.9 454.4h0M319.7 451.1h0M331.2 447.5h0M331.6 447.2h0M333.0 446.6h0M333.2 446.4h0M336.3 444.7h0M336.5 445.4h0M336.7 444.4h0M337.0 446.4h0M337.2 446.5h0M337.4 445.2h0M337.6 446.2h0M340.5 445.0h0M370.0 429.5h0M531.4 240.3h0M531.6 241.2h0M531.8 240.5h0M532.0 239.3h0M535.1 238.8h0M535.3 239.0h0M535.6 237.7h0M535.8 237.6h0M536.2 239.3h0M536.5 239.3h0M536.7 238.2h0M537.1 238.6h0M537.3 237.4h0M537.8 236.4h0M538.0 237.5h0M538.5 238.0h0M539.3 237.7h0M539.6 237.0h0M540.0 236.8h0M540.2 236.4h0M540.7 235.1h0M581.9 226.5h0M582.8 224.5h0M610.3 210.0h0M642.7 197.0h0M697.3 175.4h0M699.3 173.6h0M797.0 93.7h0M797.2 93.0h0M798.7 92.9h0M801.2 92.8h0M806.7 90.1h0M807.6 91.7h0M807.8 89.9h0M808.1 89.8h0M808.3 90.7h0M810.7 88.4h0M811.0 88.4h0M816.1 87.7h0M816.3 86.2h0M969.8 52.0h0M970.1 53.2h0M970.5 51.4h0M975.2 50.0h0M975.4 49.9h0M976.0 49.5h0M977.6 50.7h0M977.8 48.7h0M985.6 47.5h0M987.1 45.3h0M987.6 46.8h0M988.9 44.7h0M989.1 45.0h0M989.6 46.1h0M991.1 43.7h0M991.4 44.9h0M991.6 43.9h0M992.0 43.6h0M357.0 439.0h0"/>
<path stroke="#005aa2" d="M227.3 479.2h0M227.6 479.5h0M228.0 479.3h0M228.2 478.4h0M228.5 478.3h0M302.1 457.6h0M302.3 456.5h0M302.6 456.4h0M309.0 454.8h0M309.2 455.0h0M309.4 454.6h0M310.6 455.9h0M318.3 453.7h0M318.5 453.4h0M319.0 451.9h0M319.2 452.4h0M319.4 452.2h0M325.9 452.2h0M330.3 450.2h0M331.0 449.7h0M331.4 449.4h0M331.9 449.4h0M332.1 450.3h0M332.3 448.8h0M333.6 449.6h0M335.4 449.3h0M338.7 448.6h0M339.2 447.0h0M340.3 446.4h0M534.9 241.4h0M536.0 240.8h0M537.6 240.3h0M538.2 241.0h0M538.7 238.5h0M539.8 238.1h0M540.5 237.5h0M580.6 228.7h0M580.8 229.2h0M581.1 229.5h0M581.7 228.2h0M582.6 229.0h0M618.6 209.5h0M618.8 207.7h0M619.0 208.3h0M619.2 208.2h0M619.9 208.8h0M620.1 207.0h0M641.6 199.2h0M641.9 199.3h0M642.1 198.5h0M642.5 199.2h0M643.2 199.8h0M680.9 184.8h0M681.6 184.9h0M696.7 178.0h0M698.0 178.1h0M698.9 175.6h0M699.1 176.2h0M797.6 95.7h0M797.9 95.9h0M798.1 95.7h0M798.3 97.0h0M798.5 97.3h0M799.0 95.3h0M799.6 96.7h0M799.9 95.5h0M800.1 96.4h0M801.0 94.4h0M816.5 89.7h0M816.9 88.9h0M817.2 90.7h0M817.4 89.2h0M817.8 89.0h0M818.1 89.3h0M818.3 90.1h0M969.4 55.2h0M970.3 54.8h0M978.0 51.7h0M978.3 52.9h0M986.9 48.4h0M987.4 49.4h0M989.4 48.1h0M990.2 47.7h0M990.5 46.4h0M990.7 47.8h0M990.9 47.3h0M991.8 45.7h0M992.2 46.0h0"/>
<path stroke="#005aa8" d="M228.7 482.8h0M301.7 459.0h0M309.7 458.1h0M310.1 458.2h0M310.8 457.2h0M311.0 458.2h0M311.2 457.0h0M311.4 457.7h0M311.7 457.8h0M312.3 456.7h0M318.8 455.3h0M320.5 454.1h0M320.8 454.5h0M321.0 454.0h0M321.2 454.2h0M321.4 455.1h0M327.2 454.1h0M329.0 451.8h0M329.4 451.8h0M329.6 452.5h0M329.9 452.3h0M330.1 452.6h0M330.5 453.8h0M330.8 453.4h0M333.4 451.5h0M333.9 450.2h0M334.1 451.3h0M334.3 450.6h0M334.5 450.7h0M334.7 452.2h0M335.0 450.6h0M335.2 450.7h0M335.9 452.1h0M337.9 449.2h0M338.1 451.5h0M338.3 449.2h0M338.5 451.2h0M339.0 449.7h0M339.4 449.5h0M339.9 450.4h0M341.0 449.0h0M341.2 448.8h0M538.9 241.3h0M539.1 240.7h0M580.4 233.1h0M581.3 231.9h0M581.5 230.3h0M582.2 231.5h0M582.4 231.2h0M610.6 215.2h0M617.0 211.9h0M618.3 210.5h0M619.7 209.7h0M620.3 209.8h0M620.6 211.0h0M621.4 210.5h0M639.4 203.5h0M639.9 203.1h0M640.3 203.0h0M640.8 202.8h0M641.0 202.3h0M641.4 200.6h0M642.3 200.5h0M643.0 200.6h0M643.4 199.9h0M643.6 201.1h0M680.7 187.9h0M681.1 185.5h0M681.8 185.4h0M683.4 185.9h0M696.9 179.9h0M697.1 180.2h0M697.6 178.9h0M697.8 180.5h0M698.2 179.2h0M698.4 179.5h0M698.7 178.2h0M799.2 98.9h0M800.5 98.7h0M800.7 97.3h0M816.7 91.0h0M818.5 93.0h0M969.2 58.1h0M978.5 53.7h0M978.7 55.7h0M978.9 55.1h0M979.2 54.9h0M980.3 54.2h0M980.7 53.5h0M984.9 51.4h0M985.1 52.9h0M985.4 52.6h0M985.8 51.6h0M986.0 52.7h0M986.5 52.4h0M986.7 52.1h0M989.8 49.3h0M990.0 48.7h0M992.7 49.2h0M993.4 49.0h0M993.6 49.8h0M994.2 49.6h0M995.1 48.6h0M995.6 49.0h0"/>
<path stroke="#0054a8" d="M228.9 485.4h0M295.7 466.0h0M296.1 465.0h0M296.4 465.9h0M301.5 462.7h0M301.9 462.0h0M310.3 460.9h0M311.9 460.1h0M312.1 460.3h0M312.6 461.7h0M313.0 461.5h0M313.9 461.0h0M314.1 460.2h0M314.8 458.3h0M317.0 459.9h0M317.9 459.5h0M318.1 458.8h0M319.9 457.6h0M320.1 457.6h0M320.3 456.9h0M323.0 457.4h0M323.2 458.1h0M323.4 458.6h0M323.7 458.2h0M323.9 456.5h0M324.1 458.4h0M325.4 457.1h0M325.6 457.7h0M326.3 457.1h0M328.8 456.0h0M329.2 456.7h0M335.6 453.6h0M336.1 452.8h0M339.6 453.7h0M340.1 451.7h0M340.7 451.3h0M540.9 242.9h0M541.1 244.2h0M579.7 236.3h0M610.8 216.8h0M611.0 215.7h0M612.8 217.5h0M613.0 216.9h0M615.0 216.4h0M617.2 214.8h0M617.7 214.9h0M617.9 213.6h0M618.1 214.2h0M619.4 212.4h0M620.8 211.6h0M621.0 214.0h0M621.2 212.3h0M636.5 207.5h0M637.0 207.6h0M637.2 205.7h0M639.0 206.2h0M639.2 205.5h0M639.6 204.0h0M640.1 204.1h0M640.5 205.7h0M641.2 203.5h0M668.5 196.0h0M668.7 194.1h0M680.2 190.6h0M681.4 188.6h0M682.5 190.0h0M682.9 189.8h0M683.1 187.7h0M683.6 189.7h0M683.8 188.4h0M684.0 189.0h0M684.2 188.9h0M684.5 186.9h0M684.7 189.0h0M696.4 183.0h0M799.4 99.9h0M800.3 100.3h0M818.7 95.7h0M818.9 95.0h0M967.4 61.1h0M967.6 62.7h0M968.3 62.7h0M968.7 60.6h0M968.9 61.3h0M979.6 56.8h0M979.8 57.3h0M980.0 56.0h0M980.5 56.0h0M980.9 56.5h0M981.8 55.3h0M982.0 55.2h0M983.6 55.5h0M983.8 55.9h0M984.3 56.2h0M984.7 54.6h0M986.3 54.3h0M992.5 51.5h0M993.1 51.6h0M994.0 50.4h0M995.4 51.7h0M995.8 50.8h0"/>
<path stroke="#004eae" d="M229.1 491.1h0M229.3 491.7h0M238.7 488.6h0M240.9 485.7h0M241.3 487.3h0M241.5 486.4h0M242.0 485.7h0M242.7 486.4h0M242.9 486.0h0M295.2 472.1h0M296.8 470.0h0M297.0 471.1h0M298.8 470.6h0M300.1 469.5h0M300.6 468.0h0M300.8 467.7h0M301.0 468.6h0M301.2 467.4h0M317.2 465.1h0M317.4 463.3h0M322.1 463.5h0M322.3 463.8h0M322.8 461.9h0M324.3 461.7h0M541.6 249.6h0M578.0 241.7h0M578.4 241.8h0M579.9 239.7h0M612.3 221.4h0M612.6 221.0h0M614.1 220.1h0M615.9 219.5h0M616.1 219.9h0M616.3 220.1h0M616.6 220.6h0M621.7 217.4h0M621.9 217.2h0M622.3 218.6h0M622.6 218.9h0M622.8 217.1h0M623.0 219.0h0M636.1 212.6h0M638.1 212.3h0M638.8 210.7h0M644.3 208.2h0M644.5 209.1h0M644.7 208.6h0M662.3 203.9h0M662.5 202.8h0M662.7 203.6h0M662.9 202.2h0M663.2 202.8h0M663.8 201.7h0M664.5 203.1h0M664.7 202.7h0M667.4 201.2h0M667.8 201.0h0M668.0 201.7h0M668.9 199.6h0M670.5 200.7h0M671.6 200.4h0M678.9 197.1h0M679.4 195.6h0M684.9 195.1h0M685.1 192.7h0M685.4 193.6h0M687.4 192.8h0M688.2 193.6h0M688.7 192.1h0M694.2 191.0h0M694.5 191.0h0M694.9 190.5h0M695.1 190.9h0M695.8 189.7h0M696.0 187.8h0M696.2 189.4h0M819.8 98.5h0M820.3 100.1h0M967.2 66.9h0M967.8 67.7h0M982.3 62.4h0M982.7 60.5h0M982.9 60.6h0M983.1 60.8h0M996.0 55.1h0M270.1 478.7h0"/>
<path stroke="#004eb4" d="M229.6 492.3h0M229.8 494.6h0M237.8 489.8h0M238.2 490.8h0M238.4 491.3h0M238.9 489.8h0M239.1 490.2h0M239.3 491.0h0M239.6 490.6h0M239.8 490.8h0M240.0 491.5h0M240.2 488.9h0M242.2 489.3h0M242.4 488.2h0M243.1 490.1h0M243.3 489.8h0M243.5 490.3h0M272.4 481.5h0M272.6 481.7h0M294.8 474.6h0M295.0 474.6h0M297.5 473.3h0M297.7 471.9h0M297.9 472.3h0M298.1 471.9h0M298.4 472.1h0M298.6 472.4h0M299.0 471.2h0M299.2 473.1h0M299.5 472.2h0M299.7 472.1h0M299.9 471.2h0M300.4 472.1h0M313.4 467.5h0M315.7 467.4h0M322.5 467.3h0M328.1 463.7h0M577.7 244.3h0M578.2 244.6h0M578.6 244.3h0M579.1 242.8h0M623.2 222.0h0M635.0 216.5h0M645.0 213.4h0M659.8 205.8h0M661.2 205.8h0M661.4 206.2h0M661.6 206.0h0M662.1 205.5h0M663.4 205.1h0M663.6 204.3h0M664.1 203.7h0M664.3 205.6h0M666.0 205.7h0M666.5 205.7h0M667.6 202.4h0M668.3 203.0h0M669.6 204.2h0M669.8 204.0h0M670.9 203.5h0M671.4 201.0h0M675.6 201.3h0M676.9 201.6h0M677.1 201.3h0M677.4 200.4h0M677.6 199.9h0M678.5 199.4h0M678.7 199.8h0M679.1 198.9h0M680.0 197.3h0M685.6 197.2h0M685.8 197.7h0M686.0 197.0h0M686.7 197.7h0M686.9 195.8h0M687.1 195.7h0M687.6 195.5h0M687.8 196.4h0M688.0 196.1h0M688.5 194.5h0M688.9 196.1h0M689.1 194.5h0M689.6 196.4h0M690.7 195.0h0M691.3 193.4h0M691.6 192.5h0M691.8 194.9h0M693.3 194.6h0M693.6 193.3h0M693.8 192.7h0M694.0 192.7h0M694.7 192.5h0M820.5 103.1h0M820.9 101.0h0M821.2 101.4h0M821.4 103.1h0M821.6 103.3h0M958.3 73.7h0M966.7 72.1h0M966.9 72.0h0M996.7 59.4h0M999.1 57.6h0M999.3 59.7h0M617.5 224.0h0"/>
<path stroke="#0042ba" d="M230.0 503.0h0M230.7 504.7h0M230.9 502.8h0M231.1 503.4h0M232.2 503.9h0M232.4 501.4h0M233.6 501.7h0M234.0 502.0h0M234.2 502.1h0M234.4 501.4h0M234.7 501.5h0M246.4 496.6h0M246.7 498.3h0M246.9 497.6h0M247.1 496.9h0M247.5 496.3h0M247.8 496.6h0M248.0 496.6h0M248.4 498.4h0M254.0 496.5h0M264.6 493.3h0M265.3 494.5h0M266.0 494.3h0M266.4 493.2h0M266.6 491.2h0M267.1 490.9h0M267.5 491.6h0M267.7 492.7h0M268.0 492.0h0M268.2 491.4h0M271.1 491.0h0M271.5 490.0h0M274.2 491.6h0M274.4 491.8h0M275.9 489.9h0M276.2 491.2h0M276.6 488.2h0M293.0 483.7h0M293.3 482.9h0M293.7 483.5h0M294.1 482.5h0M294.4 482.8h0M542.9 260.7h0M543.6 263.1h0M571.5 256.0h0M571.7 255.5h0M572.0 256.0h0M572.4 255.8h0M572.6 254.6h0M573.7 254.4h0M574.0 255.8h0M574.2 255.3h0M574.4 253.8h0M625.4 229.2h0M625.7 229.4h0M626.1 228.5h0M626.3 227.9h0M626.8 228.2h0M627.0 230.3h0M627.2 228.0h0M628.1 229.4h0M629.0 230.1h0M629.4 227.9h0M629.7 229.9h0M630.3 229.5h0M630.5 229.0h0M630.8 228.5h0M631.2 229.1h0M631.4 229.1h0M631.7 227.2h0M631.9 229.0h0M632.1 225.7h0M632.3 226.3h0M632.8 225.4h0M634.1 225.5h0M646.5 221.6h0M658.3 218.3h0M658.5 216.7h0M658.7 216.1h0M658.9 216.2h0M674.0 210.3h0M674.3 209.5h0M674.5 210.5h0M823.2 111.8h0M823.4 111.7h0M823.6 111.8h0M824.0 110.9h0M824.3 111.6h0M824.5 110.2h0M824.9 112.1h0M825.2 112.5h0M826.9 109.6h0M948.8 86.3h0M949.0 85.0h0M949.4 87.9h0M949.6 86.6h0M949.9 87.5h0M950.7 86.1h0M951.4 86.4h0M951.6 84.9h0M951.9 84.2h0M955.2 85.2h0M955.4 83.2h0M956.1 84.8h0M956.5 83.6h0M957.0 85.3h0M957.2 83.2h0M957.4 82.3h0M959.4 82.9h0M959.8 83.0h0M962.1 83.5h0M962.3 81.4h0M963.4 83.0h0M964.1 83.1h0M964.3 82.0h0M964.5 81.2h0M965.4 79.5h0M965.6 80.9h0"/>
<path stroke="#0042c0" d="M230.2 505.4h0M230.5 506.4h0M231.3 504.9h0M231.6 507.3h0M232.0 507.0h0M249.1 503.0h0M249.5 501.5h0M249.8 502.1h0M250.0 500.9h0M250.2 500.5h0M250.4 502.4h0M251.1 501.8h0M251.5 500.4h0M252.0 501.9h0M252.2 501.9h0M252.9 500.1h0M253.1 500.0h0M253.3 501.2h0M253.5 498.7h0M254.2 497.9h0M254.4 499.7h0M254.6 500.1h0M254.9 500.6h0M255.1 501.1h0M256.9 497.8h0M257.1 499.7h0M257.3 500.0h0M257.5 499.5h0M260.4 498.0h0M260.9 498.5h0M261.5 499.1h0M262.2 498.4h0M262.4 499.1h0M263.1 497.2h0M263.3 497.7h0M263.5 496.2h0M263.7 495.9h0M264.0 497.0h0M264.2 497.2h0M264.4 496.9h0M264.8 495.4h0M265.1 495.3h0M265.5 495.1h0M266.8 494.4h0M273.9 492.5h0M274.6 495.1h0M274.8 494.9h0M275.1 494.1h0M275.3 493.3h0M275.7 492.1h0M276.8 493.1h0M277.1 492.9h0M277.3 494.4h0M277.7 494.4h0M291.5 486.9h0M292.1 488.5h0M292.4 488.7h0M292.6 486.7h0M292.8 488.2h0M542.4 264.8h0M542.7 264.9h0M543.8 266.0h0M544.9 266.4h0M545.6 266.5h0M625.9 233.4h0M627.4 231.2h0M627.7 233.6h0M627.9 232.9h0M628.3 231.8h0M628.5 232.9h0M628.8 230.7h0M629.2 230.2h0M629.9 232.5h0M630.1 232.2h0M631.0 232.1h0M646.7 226.1h0M647.0 225.0h0M647.2 226.1h0M656.7 222.0h0M657.2 222.2h0M657.6 222.7h0M658.1 221.4h0M822.5 114.6h0M822.7 114.2h0M822.9 113.9h0M823.8 113.8h0M825.4 113.7h0M826.5 113.8h0M826.7 113.0h0M827.1 112.8h0M827.4 113.5h0M946.3 92.5h0M946.5 91.7h0M946.8 92.0h0M947.0 89.6h0M947.2 92.1h0M947.4 90.9h0M948.1 90.8h0M948.3 88.9h0M948.5 89.7h0M949.2 90.1h0M950.1 88.3h0M950.3 87.9h0M950.5 89.1h0M951.0 88.3h0M951.2 89.4h0M956.3 86.2h0M959.6 86.5h0M960.1 86.6h0M960.3 86.0h0M960.5 86.8h0M962.5 85.5h0M962.7 84.5h0M963.0 85.9h0M963.2 85.0h0"/>
<path stroke="#003cc0" d="M231.8 508.4h0M248.6 504.7h0M248.9 504.0h0M249.3 503.3h0M250.6 503.7h0M250.9 503.7h0M251.3 502.8h0M251.8 502.9h0M252.4 503.6h0M252.6 504.0h0M255.3 503.9h0M255.5 503.7h0M255.7 503.7h0M256.0 501.7h0M256.2 503.8h0M256.4 502.3h0M256.6 503.4h0M257.7 503.0h0M258.0 503.2h0M258.2 502.1h0M258.4 500.7h0M259.3 502.1h0M260.0 502.7h0M260.2 501.9h0M260.6 500.7h0M261.1 501.3h0M261.3 500.2h0M261.7 500.6h0M262.0 501.1h0M262.6 500.9h0M262.9 500.1h0M265.7 499.1h0M275.5 496.4h0M277.5 496.7h0M277.9 496.3h0M278.2 495.8h0M278.4 494.6h0M278.6 495.9h0M278.8 497.4h0M279.0 497.7h0M283.7 495.9h0M283.9 494.6h0M284.2 494.9h0M291.3 493.8h0M291.7 492.5h0M291.9 490.4h0M544.0 269.4h0M544.2 270.0h0M544.4 269.8h0M544.7 270.8h0M545.1 271.1h0M545.3 268.5h0M545.8 269.1h0M571.3 263.3h0M656.5 226.9h0M656.9 224.3h0M657.4 223.6h0M657.8 223.1h0M825.6 117.3h0M825.8 119.0h0M826.0 116.6h0M826.3 116.0h0M827.6 116.1h0M828.0 115.8h0M828.3 115.9h0M828.5 115.3h0M828.9 118.3h0M944.5 95.0h0M945.4 95.2h0M946.1 93.8h0M947.6 95.4h0M947.9 95.8h0M960.7 88.8h0M961.0 89.5h0M961.4 90.2h0M961.6 90.7h0M961.8 88.8h0M963.6 88.6h0M963.8 88.7h0"/>
<path stroke="#0048b4" d="M232.7 496.8h0M232.9 496.8h0M234.9 495.6h0M235.1 495.5h0M235.3 494.4h0M236.0 496.2h0M236.4 494.8h0M236.9 495.5h0M237.1 495.1h0M237.3 492.8h0M237.6 495.1h0M238.0 492.8h0M243.8 492.7h0M244.0 492.7h0M244.2 493.0h0M244.4 491.9h0M244.7 491.1h0M244.9 492.5h0M245.1 493.4h0M268.8 486.5h0M270.6 485.6h0M270.8 485.9h0M271.7 484.6h0M272.2 483.0h0M272.8 483.0h0M273.1 484.5h0M294.6 476.7h0M541.8 254.7h0M542.0 254.6h0M573.3 249.7h0M573.5 249.8h0M574.8 249.3h0M575.1 249.9h0M575.3 248.1h0M575.5 247.2h0M576.0 248.6h0M576.2 248.6h0M576.4 248.5h0M576.8 248.5h0M577.1 248.6h0M577.3 248.2h0M577.5 246.4h0M578.8 246.6h0M623.4 223.4h0M623.7 222.7h0M624.1 223.4h0M624.3 223.3h0M624.6 224.9h0M624.8 222.9h0M633.0 221.2h0M633.2 221.3h0M633.9 220.2h0M634.8 219.1h0M635.2 220.1h0M635.9 217.6h0M645.2 215.9h0M645.4 214.0h0M645.9 215.3h0M646.1 215.5h0M646.3 216.0h0M659.6 208.4h0M660.1 208.4h0M660.3 209.3h0M660.9 208.9h0M661.8 207.5h0M666.3 207.9h0M666.7 206.4h0M666.9 206.0h0M667.2 205.9h0M669.2 205.0h0M669.4 207.2h0M670.0 206.1h0M670.3 205.5h0M670.7 204.4h0M671.2 204.4h0M671.8 205.2h0M672.0 204.4h0M672.3 206.0h0M673.1 206.1h0M674.9 205.4h0M675.4 204.2h0M675.8 202.5h0M676.0 202.3h0M676.3 203.8h0M676.7 204.7h0M677.8 203.1h0M678.0 203.5h0M678.3 202.2h0M686.2 198.2h0M686.5 198.3h0M689.3 198.1h0M689.8 198.9h0M690.9 197.4h0M691.1 196.3h0M692.0 197.1h0M692.2 197.6h0M692.9 197.3h0M693.1 196.2h0M820.7 105.5h0M821.8 105.2h0M822.0 106.7h0M953.0 79.9h0M953.2 79.1h0M953.6 79.5h0M954.1 78.9h0M954.3 77.9h0M954.5 79.4h0M955.0 78.5h0M957.6 78.0h0M957.8 77.0h0M958.5 76.0h0M958.7 77.6h0M964.7 75.2h0M965.0 73.1h0M966.3 75.5h0M966.5 74.1h0M996.9 61.2h0M997.1 61.6h0M997.3 62.6h0M997.6 62.7h0M998.0 61.2h0M998.7 62.9h0M998.9 62.6h0"/>
<path stroke="#0048ba" d="M233.1 500.0h0M233.3 500.1h0M233.8 498.8h0M235.6 499.6h0M235.8 498.0h0M236.2 498.0h0M236.7 498.2h0M245.3 495.0h0M245.5 493.7h0M245.8 494.8h0M246.0 495.8h0M246.2 495.6h0M247.3 494.5h0M248.2 495.7h0M253.8 494.2h0M266.2 490.5h0M267.3 489.7h0M268.4 489.5h0M268.6 487.4h0M269.1 488.9h0M269.3 488.9h0M269.5 487.2h0M269.7 486.6h0M270.0 487.2h0M270.2 488.7h0M270.4 486.7h0M271.3 488.9h0M271.9 486.6h0M273.3 486.2h0M273.5 487.0h0M273.7 486.2h0M276.4 487.5h0M293.5 479.8h0M293.9 481.5h0M542.2 260.7h0M543.1 258.8h0M543.3 260.5h0M572.2 253.7h0M572.8 252.4h0M573.1 252.5h0M574.6 253.1h0M575.7 251.4h0M576.6 250.3h0M623.9 226.4h0M625.0 225.6h0M625.2 226.9h0M626.5 227.3h0M632.5 224.6h0M633.4 223.7h0M633.6 224.0h0M634.3 223.8h0M634.5 221.0h0M635.4 221.5h0M635.6 222.5h0M645.6 217.4h0M659.2 213.1h0M659.4 214.5h0M660.5 213.4h0M660.7 213.5h0M672.5 209.5h0M672.7 208.1h0M672.9 207.3h0M673.4 207.7h0M673.6 207.6h0M673.8 207.8h0M674.7 206.5h0M675.1 206.7h0M676.5 207.3h0M690.0 200.0h0M690.2 201.4h0M690.5 199.6h0M692.5 198.6h0M692.7 199.8h0M822.3 108.4h0M824.7 108.0h0M952.1 83.0h0M952.3 80.6h0M952.5 82.1h0M952.7 80.5h0M953.4 81.1h0M953.9 82.9h0M954.7 80.0h0M955.6 79.6h0M955.9 80.7h0M956.7 81.9h0M958.1 78.6h0M959.0 78.8h0M959.2 80.7h0M965.2 77.1h0M965.8 76.2h0M966.1 76.1h0M997.8 65.2h0M998.2 64.7h0M998.5 64.1h0"/>
<path stroke="#0054ae" d="M240.4 485.4h0M240.7 483.0h0M241.1 484.8h0M241.8 483.4h0M295.5 467.8h0M295.9 466.1h0M296.6 468.7h0M297.2 468.5h0M312.8 464.0h0M313.2 463.7h0M313.7 461.9h0M314.3 462.0h0M314.6 461.3h0M315.0 462.4h0M315.2 461.3h0M315.4 463.0h0M315.9 463.3h0M316.1 461.2h0M316.3 462.6h0M316.6 460.9h0M316.8 461.2h0M317.7 461.4h0M321.7 460.9h0M321.9 461.9h0M324.5 460.4h0M324.8 458.6h0M325.0 460.6h0M325.2 458.5h0M326.1 458.0h0M326.5 457.8h0M326.8 457.8h0M327.0 457.9h0M327.4 458.5h0M327.6 458.5h0M327.9 457.9h0M328.3 457.3h0M328.5 457.7h0M541.3 247.3h0M579.3 239.4h0M579.5 236.9h0M580.2 236.8h0M611.2 219.1h0M611.5 218.3h0M611.7 219.9h0M611.9 220.0h0M612.1 220.5h0M613.2 220.2h0M613.5 218.9h0M613.7 217.7h0M613.9 217.9h0M614.3 217.6h0M614.6 217.8h0M614.8 217.2h0M615.2 219.0h0M615.5 217.9h0M615.7 218.5h0M616.8 217.5h0M617.5 217.9h0M622.1 215.2h0M636.3 208.6h0M636.8 208.6h0M637.4 209.0h0M637.6 208.1h0M637.9 209.6h0M638.3 209.3h0M638.5 207.9h0M643.9 205.2h0M644.1 207.6h0M664.9 199.9h0M665.2 199.4h0M665.4 199.0h0M665.6 198.2h0M665.8 199.3h0M679.6 193.3h0M679.8 193.9h0M680.5 191.3h0M682.0 190.7h0M682.2 192.5h0M682.7 190.7h0M695.3 187.6h0M695.6 185.5h0M819.2 96.1h0M819.4 97.1h0M819.6 95.6h0M820.0 97.8h0M968.1 64.1h0M968.5 63.4h0M979.4 58.7h0M981.1 59.0h0M981.4 59.8h0M981.6 58.5h0M982.5 58.6h0M983.4 58.1h0M984.0 56.6h0M984.5 57.3h0M992.9 53.3h0M993.8 54.4h0M994.5 54.1h0M994.7 52.8h0M994.9 53.2h0M996.2 52.4h0M996.5 52.9h0"/>
<path stroke="#003cc6" d="M258.6 505.1h0M258.9 505.3h0M259.1 505.2h0M259.5 504.7h0M259.7 504.6h0M279.3 498.6h0M280.8 499.2h0M281.0 500.0h0M281.9 501.1h0M282.2 501.3h0M282.4 501.2h0M283.5 499.1h0M284.4 496.9h0M285.7 500.3h0M287.7 497.4h0M287.9 498.2h0M289.0 498.6h0M289.7 496.8h0M289.9 498.1h0M290.1 498.4h0M290.4 496.3h0M290.6 495.9h0M290.8 497.0h0M291.0 498.2h0M546.0 272.0h0M546.2 272.7h0M570.4 268.0h0M570.6 267.2h0M570.9 266.2h0M571.1 268.5h0M647.4 232.6h0M647.6 234.1h0M653.2 231.5h0M653.4 232.5h0M655.0 231.1h0M655.2 231.7h0M655.8 230.1h0M656.3 229.6h0M827.8 119.5h0M828.7 118.9h0M829.1 122.5h0M943.0 99.9h0M943.6 100.7h0M943.9 100.2h0M944.1 97.2h0M944.3 97.1h0M944.8 98.7h0M945.0 99.6h0M945.2 96.9h0M945.6 98.9h0M945.9 97.5h0M961.2 92.5h0"/>
<path stroke="#0036c6" d="M279.5 505.4h0M280.4 504.8h0M280.6 502.0h0M281.3 502.6h0M281.5 504.0h0M281.7 502.8h0M282.6 502.1h0M282.8 504.5h0M283.0 501.4h0M284.6 503.1h0M284.8 501.0h0M285.0 503.7h0M285.3 502.2h0M285.5 502.5h0M286.4 502.7h0M287.3 503.2h0M287.5 500.5h0M288.1 502.5h0M288.4 502.3h0M288.6 500.7h0M288.8 502.2h0M289.3 501.3h0M289.5 499.7h0M546.4 276.1h0M550.4 278.4h0M551.3 278.6h0M553.5 278.0h0M561.3 273.9h0M561.5 272.4h0M562.2 274.6h0M562.4 273.5h0M562.6 275.9h0M563.3 275.6h0M563.8 275.2h0M567.3 274.6h0M568.9 272.8h0M569.1 273.9h0M569.3 270.2h0M570.0 273.5h0M570.2 270.4h0M652.3 236.2h0M652.5 235.3h0M652.7 235.9h0M653.0 233.8h0M653.6 233.6h0M653.8 234.8h0M654.1 234.7h0M654.5 234.6h0M654.7 235.8h0M655.4 232.0h0M655.6 234.3h0M656.1 232.6h0M895.3 114.5h0M895.5 114.5h0M901.9 112.4h0M920.8 108.1h0M921.0 108.6h0M921.2 108.2h0M942.5 102.8h0M942.8 101.2h0M943.2 101.9h0M943.4 102.5h0"/>
<path stroke="#0030cc" d="M279.7 511.4h0M279.9 512.0h0M546.9 284.2h0M547.1 287.1h0M547.3 287.9h0M548.2 287.6h0M548.9 287.8h0M549.1 287.4h0M549.3 284.9h0M549.5 286.4h0M549.8 287.0h0M550.0 287.4h0M551.8 285.5h0M552.0 286.5h0M552.7 285.7h0M554.2 285.2h0M554.9 285.9h0M555.1 284.4h0M555.3 285.8h0M555.5 284.2h0M555.8 285.6h0M556.0 285.6h0M556.2 286.8h0M556.4 286.1h0M556.6 283.7h0M557.5 281.9h0M558.2 282.5h0M558.4 284.2h0M558.6 285.9h0M558.9 285.5h0M559.3 283.9h0M559.5 285.4h0M560.2 281.1h0M560.4 282.5h0M560.6 281.3h0M564.2 282.0h0M566.0 281.0h0M566.4 280.1h0M566.6 281.8h0M567.7 279.7h0M648.3 247.5h0M649.6 247.4h0M650.5 245.5h0M650.7 247.1h0M651.2 246.9h0M651.4 243.7h0M651.6 242.5h0M830.3 131.8h0M830.7 134.0h0M830.9 133.6h0M831.1 134.5h0M838.5 133.4h0M840.9 132.7h0M842.0 133.4h0M842.2 130.4h0M842.7 129.5h0M842.9 132.4h0M843.6 132.0h0M843.8 129.3h0M844.0 131.0h0M844.2 132.7h0M892.6 122.4h0M892.8 124.3h0M893.1 123.9h0M893.5 121.0h0M893.7 120.5h0M893.9 119.5h0M894.2 119.8h0M894.4 121.3h0M894.6 120.1h0M897.7 120.1h0M899.9 118.6h0M900.4 118.3h0M900.6 121.5h0M902.4 117.9h0M902.6 119.3h0M902.8 119.1h0M903.0 118.7h0M903.7 118.0h0M904.1 119.2h0M904.6 120.7h0M904.8 122.0h0M905.0 119.4h0M905.3 119.0h0M905.5 120.2h0M905.9 119.9h0M906.1 121.4h0M907.0 121.1h0M907.3 120.6h0M907.5 119.0h0M907.7 118.3h0M909.5 120.4h0M909.7 119.4h0M912.1 120.5h0M913.2 119.9h0M913.5 117.9h0M913.7 118.1h0M913.9 119.2h0M914.1 116.1h0M914.4 115.7h0M914.8 116.4h0M915.0 116.8h0M915.2 119.2h0M915.7 118.3h0M915.9 118.1h0M916.1 117.7h0M916.4 115.9h0M917.5 116.1h0M917.7 115.1h0M917.9 114.9h0M918.1 117.8h0M918.4 114.9h0M918.8 117.7h0M919.5 116.2h0M919.7 114.6h0M922.1 115.4h0M922.6 118.1h0M923.0 115.1h0M923.5 118.4h0M923.7 117.9h0M923.9 117.1h0M924.1 116.0h0M924.3 116.1h0M925.2 117.0h0M925.5 116.7h0M940.1 115.0h0M940.3 113.2h0M940.5 114.8h0M940.8 114.2h0M230.0 529.4h0"/>
<path stroke="#0036cc" d="M280.2 509.1h0M283.3 505.7h0M285.9 506.1h0M286.1 504.7h0M286.6 507.6h0M286.8 505.7h0M287.0 505.0h0M546.7 279.8h0M548.4 281.9h0M548.7 283.4h0M550.2 281.9h0M550.7 280.6h0M550.9 281.8h0M551.1 282.4h0M551.5 281.3h0M553.3 280.7h0M553.8 280.4h0M554.0 280.2h0M556.9 277.7h0M557.1 277.6h0M557.3 277.3h0M557.8 279.7h0M558.0 280.0h0M559.8 280.6h0M560.0 279.7h0M560.9 279.8h0M561.1 277.6h0M561.8 279.5h0M562.0 276.1h0M562.9 277.3h0M563.1 277.3h0M563.5 277.2h0M564.0 277.9h0M564.4 279.0h0M564.6 279.7h0M564.9 278.5h0M565.1 277.9h0M565.3 275.5h0M565.5 277.1h0M565.7 277.8h0M566.9 278.4h0M567.1 277.0h0M567.5 276.8h0M568.0 278.4h0M568.2 278.2h0M568.4 275.8h0M568.6 275.3h0M569.5 277.3h0M569.7 277.9h0M647.9 241.2h0M648.1 241.5h0M651.8 239.3h0M652.1 239.6h0M654.3 237.1h0M829.4 126.9h0M829.6 129.3h0M829.8 131.2h0M830.0 131.2h0M830.5 130.2h0M843.1 128.3h0M843.3 127.0h0M894.8 117.5h0M895.1 118.1h0M895.7 118.5h0M895.9 116.9h0M896.2 118.9h0M896.4 117.2h0M896.6 115.0h0M896.8 115.9h0M897.0 117.2h0M897.3 116.5h0M897.5 116.8h0M897.9 118.3h0M898.2 117.9h0M898.4 115.1h0M898.6 116.9h0M898.8 114.5h0M899.0 115.0h0M899.3 113.8h0M899.5 115.8h0M899.7 116.8h0M900.2 117.6h0M900.8 117.4h0M901.0 115.0h0M901.3 117.5h0M901.5 117.7h0M901.7 117.8h0M902.2 114.2h0M903.3 117.3h0M903.5 117.1h0M903.9 114.4h0M904.4 116.8h0M914.6 112.9h0M916.6 114.2h0M916.8 113.0h0M917.0 113.6h0M917.2 113.9h0M918.6 111.9h0M919.0 113.4h0M919.2 112.1h0M919.9 112.8h0M920.1 113.3h0M920.3 112.9h0M920.6 111.1h0M921.5 109.5h0M921.7 109.7h0M921.9 113.4h0M922.3 113.8h0M923.2 113.1h0M941.0 109.4h0M941.2 109.2h0M941.4 106.4h0M941.7 108.6h0M941.9 108.2h0M942.1 106.1h0M942.3 105.8h0"/>
<path stroke="#006c90" d="M342.7 432.1h0M343.0 430.9h0M355.2 426.4h0M355.6 425.9h0M355.8 427.3h0M361.8 424.3h0M362.0 423.0h0M364.7 422.6h0M364.9 421.1h0M365.1 421.4h0M366.3 421.7h0M367.8 419.2h0M376.0 415.4h0M376.2 413.6h0M377.6 413.9h0M377.8 414.2h0M378.9 412.7h0M379.1 413.2h0M381.6 411.8h0M381.8 412.2h0M383.8 409.7h0M384.7 410.0h0M384.9 410.1h0M386.0 408.5h0M386.7 408.3h0M387.1 408.9h0M387.3 407.2h0M508.7 242.2h0M509.2 242.9h0M509.8 240.8h0M518.9 236.8h0M519.1 235.5h0M519.4 235.7h0M519.8 236.6h0M521.1 236.2h0M521.4 235.3h0M526.2 231.5h0M526.7 230.5h0M528.0 231.8h0M587.1 211.1h0M604.4 201.9h0M605.0 200.6h0M608.6 199.9h0M702.2 161.1h0M702.7 160.6h0M703.8 159.7h0M757.9 108.5h0M792.8 83.6h0M794.5 84.2h0M795.2 84.0h0M795.4 83.3h0M815.6 76.7h0M972.7 40.5h0M972.9 39.4h0"/>
<path stroke="#00906c" d="M399.3 377.2h0M401.3 375.7h0M404.2 373.2h0M410.6 368.1h0M414.4 365.3h0M414.6 364.7h0M415.1 364.3h0M416.2 364.0h0M501.8 223.2h0M503.2 222.6h0M515.2 215.6h0M591.0 188.3h0M710.9 133.1h0M745.0 95.5h0M745.7 94.7h0M745.9 94.5h0M750.1 91.0h0M760.6 83.0h0M763.2 81.3h0M763.5 81.1h0M763.9 80.4h0M769.7 76.9h0M770.6 76.4h0M771.9 75.2h0M774.1 73.1h0M774.3 74.3h0M774.6 72.9h0M774.8 73.1h0M786.1 66.0h0M786.5 64.6h0M786.8 64.3h0M787.4 64.0h0M787.9 64.2h0"/>
<path stroke="#009c60" d="M402.0 369.3h0M402.4 369.1h0M403.3 367.5h0M404.6 367.3h0M433.0 327.4h0M489.6 227.5h0M489.9 227.3h0M711.3 126.3h0M711.5 125.1h0M744.4 89.5h0M764.4 74.0h0M766.3 72.4h0M767.5 72.7h0M767.7 72.5h0M768.1 71.7h0M775.2 67.0h0M775.4 66.4h0M785.7 59.0h0"/>
<path stroke="#00cc30" d="M418.6 333.4h0M429.1 310.9h0M714.4 101.0h0M716.6 99.2h0M716.9 98.4h0"/>
<path stroke="#00de24" d="M419.3 326.1h0M421.5 322.5h0M427.3 308.2h0M429.5 305.3h0M430.2 303.6h0M430.4 303.6h0M436.6 295.5h0M446.6 281.2h0M486.1 204.1h0M714.6 95.4h0M721.3 88.0h0M722.2 87.7h0M738.8 68.4h0M740.4 66.9h0M740.8 66.2h0"/>
<path stroke="#00ea18" d="M419.7 321.4h0M420.2 320.6h0M426.4 306.7h0M446.8 277.0h0M447.7 274.8h0M447.9 274.3h0M448.1 273.8h0M480.1 206.1h0M481.0 205.8h0M481.2 204.8h0M740.6 62.7h0M741.7 61.6h0"/>
<path stroke="#00f00c" d="M422.0 313.9h0M422.6 312.5h0M425.3 305.8h0M437.0 288.3h0M437.3 287.9h0M437.9 287.0h0M449.2 268.8h0M449.9 268.2h0M485.4 197.2h0"/>
<path stroke="#00fc00" d="M424.2 305.1h0M424.6 303.4h0M438.2 283.3h0M438.4 282.2h0M445.5 270.8h0M450.8 261.8h0M451.2 262.3h0M481.4 198.2h0M481.6 197.6h0M482.5 195.9h0M484.5 193.8h0M726.6 71.2h0M733.9 62.3h0M737.9 57.7h0M738.4 57.8h0"/>
<path stroke="#00d82a" d="M427.5 309.6h0M435.3 300.0h0M486.3 206.5h0M486.5 205.7h0M715.5 96.3h0M715.8 97.1h0M721.5 90.2h0M739.1 70.9h0M742.4 67.2h0"/>
<path stroke="#00ba48" d="M434.8 312.2h0M493.4 212.4h0M493.9 211.9h0M494.1 211.0h0M718.6 105.5h0M743.5 77.6h0M779.7 50.8h0"/>
<path stroke="#12fc00" d="M439.3 277.8h0M439.7 277.1h0M451.7 257.4h0M476.8 199.9h0M477.0 199.6h0M477.9 198.7h0M483.6 191.7h0M483.9 191.5h0M484.3 190.8h0M725.1 68.8h0M725.3 68.8h0M725.7 68.5h0M726.0 67.4h0M731.7 61.4h0M732.0 61.0h0M732.4 61.1h0M736.6 55.4h0M737.1 55.1h0"/>
<path stroke="#1efc00" d="M439.9 274.2h0M454.6 250.1h0M476.3 197.7h0M483.0 189.7h0M483.2 189.8h0M483.4 189.4h0M484.1 188.5h0M724.4 67.8h0M727.7 63.0h0M728.4 62.4h0M729.3 62.3h0M730.2 61.0h0M730.6 60.0h0M734.4 55.7h0"/>
<path stroke="#36fc00" d="M440.2 269.8h0M441.5 268.1h0M443.7 263.9h0M452.8 248.1h0M455.2 244.0h0M455.5 243.7h0M455.7 243.9h0M455.9 243.5h0M728.6 58.6h0M734.8 50.9h0M735.7 50.5h0"/>
<path stroke="#3cfc00" d="M440.4 268.4h0M441.0 267.2h0M441.3 266.9h0M453.9 245.3h0M730.8 54.2h0"/>
<path stroke="#48fc00" d="M440.6 266.0h0M444.1 260.3h0M453.2 245.0h0M453.5 244.4h0M458.8 234.1h0"/>
<path stroke="#42fc00" d="M440.8 266.2h0M442.4 263.9h0M443.9 261.8h0M454.1 244.0h0M475.9 191.6h0"/>
<path stroke="#4efc00" d="M441.7 263.4h0M442.1 263.0h0M443.5 260.8h0M453.7 242.8h0M456.6 238.0h0M475.4 189.7h0M475.7 190.0h0"/>
<path stroke="#60fc00" d="M441.9 259.8h0M457.0 233.8h0M457.7 232.6h0M459.2 229.9h0M475.0 188.3h0M475.2 188.0h0"/>
<path stroke="#5afc00" d="M442.6 259.6h0M442.8 259.2h0M443.3 258.7h0M456.8 235.2h0M458.6 231.9h0"/>
<path stroke="#66fc00" d="M443.0 257.0h0M457.2 232.3h0M457.5 232.0h0M459.0 229.1h0"/>
<path stroke="#30fc00" d="M444.4 263.7h0M452.6 249.4h0M453.0 248.9h0M454.8 246.2h0M455.0 245.6h0M724.6 63.6h0M735.3 51.8h0M735.9 51.3h0M736.4 50.8h0"/>
<path stroke="#24fc00" d="M452.1 252.3h0M452.4 252.3h0M728.8 61.5h0M730.0 60.1h0M731.1 59.0h0M736.2 53.4h0"/>
<path stroke="#6cfc00" d="M457.9 230.2h0M474.8 186.2h0"/>
<path stroke="#78fc00" d="M458.1 228.1h0M460.1 224.2h0M474.1 185.6h0M474.5 185.4h0"/>
<path stroke="#54fc00" d="M458.3 233.0h0M459.5 230.8h0M459.7 230.2h0"/>
<path stroke="#72fc00" d="M459.9 224.9h0M474.3 186.4h0"/>
<path stroke="#8afc00" d="M460.3 220.5h0M473.7 184.1h0"/>
<path stroke="#9cfc00" d="M460.6 217.1h0M460.8 217.1h0M461.2 216.0h0M461.7 214.8h0M473.4 181.8h0M473.9 181.3h0"/>
<path stroke="#90fc00" d="M461.0 217.9h0"/>
<path stroke="#a2fc00" d="M461.5 214.6h0"/>
<path stroke="#aefc00" d="M461.9 211.6h0M462.1 211.5h0"/>
<path stroke="#a8fc00" d="M462.3 211.7h0M462.6 211.1h0M473.2 180.7h0"/>
<path stroke="#b4fc00" d="M462.8 209.0h0"/>
<path stroke="#e4fc00" d="M463.0 202.0h0M469.2 183.1h0M472.5 173.9h0"/>
<path stroke="#fcfc00" d="M463.2 197.8h0M470.3 175.3h0"/>
<path stroke="#fce400" d="M463.5 193.5h0M463.7 193.3h0M464.1 192.4h0M464.6 190.7h0M471.0 170.1h0"/>
<path stroke="#fcd200" d="M463.9 190.0h0M470.8 167.6h0"/>
<path stroke="#fcde00" d="M464.3 190.3h0M471.4 168.4h0"/>
<path stroke="#fcc600" d="M464.8 185.9h0M471.2 165.1h0"/>
<path stroke="#fcae00" d="M465.0 182.6h0"/>
<path stroke="#fca800" d="M465.2 180.9h0"/>
<path stroke="#fca200" d="M465.4 179.3h0"/>
<path stroke="#fc6000" d="M465.7 170.3h0"/>
<path stroke="#fc4200" d="M465.9 165.4h0"/>
<path stroke="#fc0000" d="M466.1 156.0h0M466.3 154.7h0M466.6 151.8h0M466.8 152.1h0M467.0 149.6h0M467.2 153.3h0"/>
<path stroke="#fc0c00" d="M467.4 154.2h0"/>
<path stroke="#fc3600" d="M467.7 157.8h0"/>
<path stroke="#fc4800" d="M467.9 159.0h0"/>
<path stroke="#fc6c00" d="M468.1 162.3h0M468.3 161.5h0"/>
<path stroke="#fc9000" d="M468.6 165.8h0"/>
<path stroke="#fcba00" d="M468.8 170.9h0"/>
<path stroke="#fcf600" d="M469.0 179.2h0M471.9 171.0h0"/>
<path stroke="#c0fc00" d="M469.4 186.4h0"/>
<path stroke="#ccfc00" d="M469.7 184.5h0M469.9 183.3h0"/>
<path stroke="#f0fc00" d="M470.1 178.2h0M472.1 173.6h0"/>
<path stroke="#fcd800" d="M470.6 168.9h0"/>
<path stroke="#fcf000" d="M471.7 170.1h0"/>
<path stroke="#defc00" d="M472.3 175.0h0M473.0 174.1h0"/>
<path stroke="#d2fc00" d="M472.8 176.1h0"/>
<path stroke="#0030d2" d="M547.6 289.8h0M547.8 291.7h0M548.0 289.2h0M552.2 290.2h0M552.4 287.8h0M552.9 288.2h0M553.1 288.0h0M554.4 287.8h0M554.7 288.8h0M559.1 287.5h0M566.2 285.3h0M648.5 248.9h0M649.8 247.7h0M650.1 248.4h0M650.3 251.7h0M651.0 247.9h0M831.4 139.8h0M831.8 140.3h0M835.6 137.9h0M835.8 139.4h0M836.5 138.1h0M836.7 138.3h0M836.9 138.6h0M837.4 139.5h0M837.6 138.0h0M838.0 136.6h0M838.2 135.0h0M838.7 137.0h0M838.9 134.9h0M839.1 136.6h0M839.4 134.5h0M839.6 137.9h0M839.8 137.9h0M840.0 135.2h0M840.2 136.4h0M840.5 136.3h0M840.7 135.4h0M841.1 137.3h0M841.4 136.0h0M841.6 134.1h0M841.8 133.9h0M842.5 133.5h0M844.5 136.1h0M845.8 136.1h0M846.2 136.6h0M884.0 130.5h0M884.2 129.3h0M891.9 126.2h0M892.2 128.2h0M892.4 124.7h0M893.3 124.8h0M905.7 122.7h0M906.4 122.8h0M906.6 121.7h0M906.8 122.4h0M907.9 121.6h0M908.1 123.0h0M908.4 124.1h0M908.6 122.5h0M908.8 123.5h0M909.0 125.4h0M909.3 121.9h0M909.9 121.5h0M910.1 122.9h0M910.8 121.3h0M911.0 123.3h0M911.3 123.1h0M911.7 123.4h0M911.9 121.0h0M912.4 122.6h0M912.6 121.3h0M912.8 122.4h0M913.0 125.3h0M915.5 120.1h0M922.8 121.3h0M924.6 118.6h0M924.8 119.2h0M925.0 118.2h0M925.7 120.2h0M925.9 119.1h0M926.1 119.4h0M926.3 120.3h0M926.6 121.2h0M926.8 118.8h0M927.9 120.4h0M928.1 122.2h0M928.3 122.4h0M928.6 121.4h0M929.2 120.3h0M931.9 121.3h0M932.3 121.0h0M934.3 120.0h0M934.5 119.3h0M934.8 118.4h0M935.0 117.9h0M935.2 118.2h0M935.4 120.0h0M935.7 119.8h0M936.5 120.9h0M936.8 119.0h0M937.0 119.8h0M937.2 119.7h0M937.7 120.4h0M938.1 120.6h0M938.3 119.9h0M938.5 120.1h0M938.8 119.3h0M939.0 118.2h0M939.2 118.5h0M939.4 118.6h0M939.7 117.8h0M939.9 117.6h0"/>
<path stroke="#002ad2" d="M648.7 256.8h0M649.2 256.4h0M649.4 254.7h0M831.6 142.8h0M832.3 143.3h0M832.5 141.7h0M833.6 143.2h0M833.8 145.3h0M834.0 143.4h0M834.2 145.4h0M834.5 142.9h0M834.7 141.5h0M834.9 143.1h0M835.1 143.8h0M835.4 141.8h0M836.0 142.5h0M836.2 142.8h0M837.1 141.6h0M837.8 141.1h0M844.7 139.2h0M844.9 139.2h0M845.1 138.8h0M845.3 140.2h0M845.6 141.1h0M846.0 138.3h0M846.9 141.7h0M847.3 141.5h0M847.6 142.6h0M847.8 139.3h0M848.0 139.4h0M848.2 140.8h0M848.5 138.3h0M848.7 141.1h0M863.5 140.2h0M881.1 136.8h0M882.2 134.8h0M882.8 133.5h0M883.1 136.8h0M883.3 134.7h0M883.5 133.1h0M883.7 133.4h0M884.4 133.9h0M884.6 133.0h0M884.8 134.0h0M885.1 136.4h0M885.3 135.7h0M885.5 134.3h0M885.7 134.8h0M886.2 136.5h0M886.4 133.9h0M887.1 133.6h0M887.3 134.3h0M887.7 134.2h0M888.0 131.4h0M888.2 134.4h0M888.4 133.8h0M888.6 131.4h0M891.1 134.9h0M891.3 135.1h0M891.5 130.0h0M891.7 132.7h0M910.4 127.6h0M910.6 128.7h0M911.5 126.0h0M927.0 126.3h0M927.2 126.4h0M927.7 123.9h0M928.8 126.5h0M929.0 123.1h0M929.4 126.2h0M929.7 126.5h0M929.9 122.8h0M930.1 126.0h0M930.3 123.8h0M930.6 123.2h0M930.8 123.5h0M931.0 124.0h0M931.4 125.3h0M931.7 123.2h0M932.1 122.5h0M932.6 122.7h0M932.8 126.6h0M933.4 126.8h0M933.7 124.6h0M933.9 123.6h0M934.1 125.2h0M935.9 126.4h0M936.1 126.7h0M936.3 122.4h0M937.4 121.0h0M937.9 122.6h0"/>
<path stroke="#002ad8" d="M649.0 259.6h0M832.0 146.5h0M832.7 146.7h0M832.9 150.4h0M833.1 148.2h0M833.4 148.2h0M846.5 143.5h0M846.7 144.8h0M847.1 145.5h0M848.9 143.9h0M849.1 147.0h0M849.3 148.0h0M849.6 147.2h0M849.8 147.9h0M850.0 144.9h0M850.2 143.9h0M850.4 147.7h0M850.7 144.6h0M850.9 144.2h0M851.1 147.2h0M851.3 146.8h0M851.6 144.2h0M851.8 144.1h0M852.0 143.9h0M852.2 142.7h0M852.4 143.5h0M852.7 146.9h0M852.9 146.2h0M853.1 147.6h0M853.3 146.5h0M853.6 146.9h0M855.1 146.2h0M858.0 144.9h0M858.2 144.6h0M858.9 144.6h0M860.0 146.5h0M860.2 145.8h0M860.4 146.5h0M860.7 146.4h0M860.9 145.8h0M862.0 143.0h0M862.4 144.5h0M862.7 142.9h0M862.9 143.7h0M863.1 145.3h0M863.3 144.3h0M863.8 142.9h0M864.0 143.7h0M880.0 141.0h0M880.2 139.9h0M880.4 141.5h0M880.6 139.6h0M880.8 138.9h0M881.3 138.0h0M881.5 140.5h0M881.7 141.4h0M882.0 138.3h0M882.4 138.1h0M882.6 138.3h0M886.0 137.4h0M886.6 137.4h0M886.8 138.4h0M887.5 139.3h0M888.8 137.0h0M889.1 137.1h0M889.3 138.7h0M889.5 141.7h0M889.7 141.7h0M889.9 139.5h0M890.8 140.6h0M927.4 128.5h0M931.2 128.5h0M933.0 130.3h0M933.2 127.6h0"/>
<path stroke="#0024d8" d="M853.8 149.2h0M854.0 149.9h0M854.2 149.1h0M854.4 148.5h0M854.7 151.2h0M854.9 149.7h0M855.3 148.8h0M855.6 150.3h0M855.8 149.3h0M856.0 147.8h0M856.2 150.9h0M856.4 152.6h0M856.7 151.7h0M856.9 150.2h0M857.1 150.8h0M857.3 153.4h0M857.5 149.7h0M857.8 150.7h0M858.4 147.0h0M858.7 147.4h0M859.1 147.3h0M859.3 148.5h0M859.5 149.4h0M859.8 147.4h0M861.1 147.1h0M861.3 148.6h0M861.5 147.2h0M861.8 148.7h0M862.2 148.7h0M864.2 149.9h0M864.7 152.3h0M878.2 149.1h0M878.4 147.6h0M878.6 148.1h0M878.9 149.4h0M879.1 147.0h0M879.3 144.1h0M879.5 145.6h0M879.7 144.5h0M890.2 145.2h0M890.4 146.2h0M890.6 144.9h0"/>
<path stroke="#0024de" d="M864.4 153.1h0M864.9 154.0h0M865.1 156.7h0M865.3 155.4h0M865.5 158.1h0M865.8 155.1h0M866.0 156.3h0M866.6 157.9h0M866.9 157.1h0M871.5 156.3h0M871.8 155.9h0M872.0 157.9h0M872.2 158.3h0M872.6 157.8h0M873.1 158.1h0M874.6 156.6h0M874.9 157.2h0M875.5 156.5h0M875.7 157.0h0M876.0 157.0h0M876.2 157.0h0M876.4 154.0h0M876.6 155.7h0M876.9 154.5h0M877.1 151.1h0M877.3 150.9h0M877.5 153.4h0M877.7 155.4h0M878.0 152.3h0"/>
<path stroke="#001ede" d="M866.2 159.9h0M866.4 160.0h0M867.1 160.5h0M867.3 161.9h0M867.5 161.9h0M867.8 162.9h0M868.0 161.6h0M868.2 161.1h0M868.4 160.5h0M868.6 159.5h0M868.9 162.3h0M869.1 159.4h0M869.3 164.7h0M869.5 164.7h0M869.8 162.4h0M870.0 164.8h0M870.4 164.8h0M870.6 160.4h0M870.9 160.6h0M871.1 160.5h0M871.3 159.0h0M872.4 161.0h0M872.9 160.0h0M873.3 159.6h0M873.5 160.0h0M873.7 162.9h0M874.0 162.7h0M874.2 160.7h0M874.4 160.4h0M875.1 158.4h0M875.3 158.4h0"/>
<path stroke="#001ee4" d="M870.2 166.7h0"/>
</g>
<!-- annotation -->
<rect x="110.5" y="40.5" width="208" height="45.5" fill="#000" stroke="#6e6e6e" stroke-width="1"/>
<g fill="#fff" stroke="#fff" stroke-width="0.3" font-size="14">
<text x="116.3" y="60" textLength="155.5" lengthAdjust="spacingAndGlyphs">Charts by: @BitboBTC</text>
<text x="116.3" y="77.9" textLength="196" lengthAdjust="spacingAndGlyphs">Models by: @100trillionUSD</text>
</g>
<!-- legend -->
<rect x="879.6" y="510.6" width="152.3" height="50.6" fill="#000" stroke="#777" stroke-width="1"/>
<line x1="885.2" y1="526" x2="914.9" y2="526" stroke="#ecb44c" stroke-width="2"/>
<circle cx="900.2" cy="546" r="1.9" fill="#555"/>
<g fill="#fff" stroke="#fff" stroke-width="0.3" font-size="12.6">
<text x="920.5" y="530.9" textLength="73.4" lengthAdjust="spacingAndGlyphs">SMA 1458d</text>
<text x="920.5" y="550.8" textLength="104" lengthAdjust="spacingAndGlyphs">Price end of day</text>
</g>
<!-- colorbar -->
<rect x="1082" y="19.5" width="15" height="580.5" fill="url(#cb)"/>
<g fill="#fff" stroke="#fff" stroke-width="0.3" font-size="12">
<text x="1100.5" y="604.3">0</text>
<text x="1100.5" y="488.2" textLength="19" lengthAdjust="spacingAndGlyphs">0.2</text>
<text x="1100.5" y="372.1" textLength="19" lengthAdjust="spacingAndGlyphs">0.4</text>
<text x="1100.5" y="256" textLength="19" lengthAdjust="spacingAndGlyphs">0.6</text>
<text x="1100.5" y="139.9" textLength="19" lengthAdjust="spacingAndGlyphs">0.8</text>
<text x="1100.5" y="23.8">1</text>
</g>
<text transform="translate(1133.2,309.5) rotate(-90)" x="0" y="0" text-anchor="middle" font-size="12.4" fill="#fff" stroke="#fff" stroke-width="0.3" textLength="111" lengthAdjust="spacingAndGlyphs">SMA 1458 delta %</text>
</svg>
</body></html>
